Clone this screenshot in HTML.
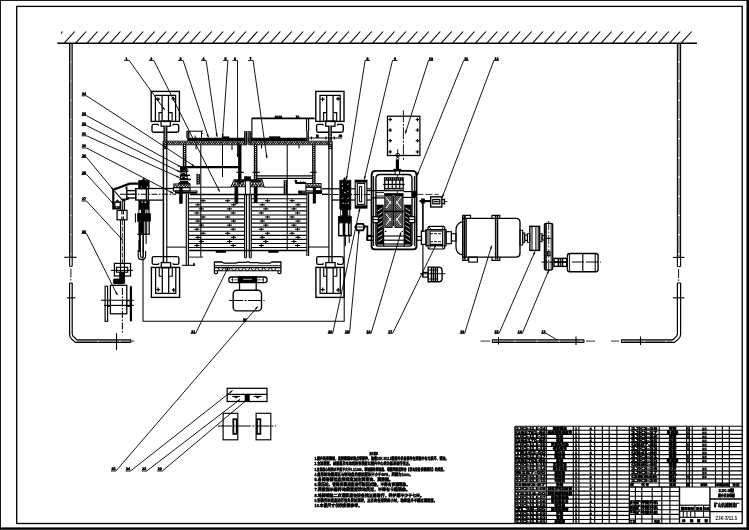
<!DOCTYPE html>
<html lang="zh"><head><meta charset="utf-8"><title>2JK-3/11.5 提升机安装图</title>
<style>
html,body{margin:0;padding:0;background:#fff;}
body{width:749px;height:530px;overflow:hidden;font-family:"Liberation Sans","Noto Sans CJK SC",sans-serif;}
svg{display:block;position:absolute;left:0;top:0;filter:grayscale(1);}
svg text{fill:#000;stroke:#000;stroke-width:0.45px;text-rendering:geometricPrecision;font-family:"Liberation Sans","Noto Sans CJK SC",sans-serif;}
svg .k{fill:#000;}
svg .t{stroke-width:0.6;}
svg .ld{stroke-width:0.75;}
</style></head><body>
<svg width="749" height="530" viewBox="0 0 749 530">
<g stroke="#000" stroke-width="1" fill="none" stroke-linecap="butt">
<!-- sheet frame -->
<rect x="0" y="0" width="749" height="0.9" style="fill:#000" stroke="none"/>
<rect x="0" y="0" width="0.9" height="530" style="fill:#000" stroke="none"/>
<rect x="746.5" y="0" width="2.5" height="530" style="fill:#000" stroke="none"/>
<rect x="0" y="527.4" width="749" height="2.4" style="fill:#000" stroke="none"/>
<rect x="16.7" y="6.4" width="725.5" height="517.1" stroke-width="1.32"/>
<!-- ceiling -->
<line x1="57.3" y1="43.3" x2="697" y2="43.3" stroke-width="1.38"/>
<line x1="64.2" y1="43.2" x2="74.7" y2="31.5" stroke-width="1.09"/>
<line x1="75.62" y1="43.2" x2="86.12" y2="31.5" stroke-width="1.09"/>
<line x1="87.05" y1="43.2" x2="97.55" y2="31.5" stroke-width="1.09"/>
<line x1="98.47" y1="43.2" x2="108.97" y2="31.5" stroke-width="1.09"/>
<line x1="109.9" y1="43.2" x2="120.4" y2="31.5" stroke-width="1.09"/>
<line x1="121.32" y1="43.2" x2="131.82" y2="31.5" stroke-width="1.09"/>
<line x1="132.74" y1="43.2" x2="143.24" y2="31.5" stroke-width="1.09"/>
<line x1="144.17" y1="43.2" x2="154.67" y2="31.5" stroke-width="1.09"/>
<line x1="155.59" y1="43.2" x2="166.09" y2="31.5" stroke-width="1.09"/>
<line x1="167.02" y1="43.2" x2="177.52" y2="31.5" stroke-width="1.09"/>
<line x1="178.44" y1="43.2" x2="188.94" y2="31.5" stroke-width="1.09"/>
<line x1="189.86" y1="43.2" x2="200.36" y2="31.5" stroke-width="1.09"/>
<line x1="201.29" y1="43.2" x2="211.79" y2="31.5" stroke-width="1.09"/>
<line x1="212.71" y1="43.2" x2="223.21" y2="31.5" stroke-width="1.09"/>
<line x1="224.14" y1="43.2" x2="234.64" y2="31.5" stroke-width="1.09"/>
<line x1="235.56" y1="43.2" x2="246.06" y2="31.5" stroke-width="1.09"/>
<line x1="246.98" y1="43.2" x2="257.48" y2="31.5" stroke-width="1.09"/>
<line x1="258.41" y1="43.2" x2="268.91" y2="31.5" stroke-width="1.09"/>
<line x1="269.83" y1="43.2" x2="280.33" y2="31.5" stroke-width="1.09"/>
<line x1="281.26" y1="43.2" x2="291.76" y2="31.5" stroke-width="1.09"/>
<line x1="292.68" y1="43.2" x2="303.18" y2="31.5" stroke-width="1.09"/>
<line x1="304.1" y1="43.2" x2="314.6" y2="31.5" stroke-width="1.09"/>
<line x1="315.53" y1="43.2" x2="326.03" y2="31.5" stroke-width="1.09"/>
<line x1="326.95" y1="43.2" x2="337.45" y2="31.5" stroke-width="1.09"/>
<line x1="338.38" y1="43.2" x2="348.88" y2="31.5" stroke-width="1.09"/>
<line x1="349.8" y1="43.2" x2="360.3" y2="31.5" stroke-width="1.09"/>
<line x1="361.22" y1="43.2" x2="371.72" y2="31.5" stroke-width="1.09"/>
<line x1="372.65" y1="43.2" x2="383.15" y2="31.5" stroke-width="1.09"/>
<line x1="384.07" y1="43.2" x2="394.57" y2="31.5" stroke-width="1.09"/>
<line x1="395.5" y1="43.2" x2="406" y2="31.5" stroke-width="1.09"/>
<line x1="406.92" y1="43.2" x2="417.42" y2="31.5" stroke-width="1.09"/>
<line x1="418.34" y1="43.2" x2="428.84" y2="31.5" stroke-width="1.09"/>
<line x1="429.77" y1="43.2" x2="440.27" y2="31.5" stroke-width="1.09"/>
<line x1="441.19" y1="43.2" x2="451.69" y2="31.5" stroke-width="1.09"/>
<line x1="452.62" y1="43.2" x2="463.12" y2="31.5" stroke-width="1.09"/>
<line x1="464.04" y1="43.2" x2="474.54" y2="31.5" stroke-width="1.09"/>
<line x1="475.46" y1="43.2" x2="485.96" y2="31.5" stroke-width="1.09"/>
<line x1="486.89" y1="43.2" x2="497.39" y2="31.5" stroke-width="1.09"/>
<line x1="498.31" y1="43.2" x2="508.81" y2="31.5" stroke-width="1.09"/>
<line x1="509.74" y1="43.2" x2="520.24" y2="31.5" stroke-width="1.09"/>
<line x1="521.16" y1="43.2" x2="531.66" y2="31.5" stroke-width="1.09"/>
<line x1="532.58" y1="43.2" x2="543.08" y2="31.5" stroke-width="1.09"/>
<line x1="544.01" y1="43.2" x2="554.51" y2="31.5" stroke-width="1.09"/>
<line x1="555.43" y1="43.2" x2="565.93" y2="31.5" stroke-width="1.09"/>
<line x1="566.86" y1="43.2" x2="577.36" y2="31.5" stroke-width="1.09"/>
<line x1="578.28" y1="43.2" x2="588.78" y2="31.5" stroke-width="1.09"/>
<line x1="589.7" y1="43.2" x2="600.2" y2="31.5" stroke-width="1.09"/>
<line x1="601.13" y1="43.2" x2="611.63" y2="31.5" stroke-width="1.09"/>
<line x1="612.55" y1="43.2" x2="623.05" y2="31.5" stroke-width="1.09"/>
<line x1="623.98" y1="43.2" x2="634.48" y2="31.5" stroke-width="1.09"/>
<line x1="635.4" y1="43.2" x2="645.9" y2="31.5" stroke-width="1.09"/>
<line x1="646.82" y1="43.2" x2="657.32" y2="31.5" stroke-width="1.09"/>
<line x1="658.25" y1="43.2" x2="668.75" y2="31.5" stroke-width="1.09"/>
<line x1="669.67" y1="43.2" x2="680.17" y2="31.5" stroke-width="1.09"/>
<line x1="681.1" y1="43.2" x2="691.6" y2="31.5" stroke-width="1.09"/>
<line x1="61" y1="33.5" x2="62.5" y2="31.5" stroke-width="1.03"/>
<!-- conduit -->
<line x1="69.6" y1="43.3" x2="69.6" y2="266.3" stroke-width="1.09"/>
<line x1="72.2" y1="43.3" x2="72.2" y2="266.3" stroke-width="1.09"/>
<line x1="70.9" y1="43.3" x2="70.9" y2="257" stroke-width="0.63" stroke-dasharray="18 1.2"/>
<line x1="69.6" y1="266.3" x2="72.2" y2="266.3" stroke-width="1.03"/>
<line x1="70.9" y1="268.5" x2="70.9" y2="282" stroke-width="0.92" stroke-dasharray="9 1.5 1.5 1.5"/>
<path d="M69.6 283 L69.6 334.5 Q69.6 337.4 71.8 339.2 L75.6 342.4 L130.7 342.4" stroke-width="1.21"/>
<path d="M72.2 283 L72.2 333.4 Q72.2 335.6 73.8 336.9 L76.8 339.8 L130.7 339.8" stroke-width="1.21"/>
<line x1="69.6" y1="283" x2="72.2" y2="283" stroke-width="1.03"/>
<line x1="130.7" y1="339.4" x2="130.7" y2="342.8" stroke-width="1.03"/>
<line x1="64.2" y1="257.3" x2="76.6" y2="257.3" stroke-width="1.09"/>
<line x1="67" y1="297.8" x2="75.5" y2="297.8" stroke-width="1.09"/>
<line x1="116.5" y1="333.3" x2="116.5" y2="350.1" stroke-width="1.09"/>
<line x1="131" y1="341.1" x2="134.3" y2="341.1" stroke-width="0.8"/>
<line x1="77" y1="341.1" x2="130" y2="341.1" stroke-width="0.57" stroke-dasharray="20 2"/>
<line x1="677.4" y1="43.3" x2="677.4" y2="266.6" stroke-width="1.09"/>
<line x1="680.6" y1="43.3" x2="680.6" y2="266.6" stroke-width="1.09"/>
<line x1="679" y1="43.3" x2="679" y2="257" stroke-width="0.8" stroke-dasharray="18 1.2"/>
<line x1="677.4" y1="266.6" x2="680.6" y2="266.6" stroke-width="1.03"/>
<line x1="678.6" y1="268.9" x2="678.6" y2="282.5" stroke-width="0.92" stroke-dasharray="9 1.5 1.5 1.5"/>
<path d="M680.6 283 L680.6 334.5 Q680.6 337.4 678.2 339.2 L674.2 342.4 L621.5 342.4" stroke-width="1.21"/>
<path d="M677.4 283 L677.4 333.4 Q677.4 335.6 675.9 336.9 L672.9 339.8 L621.5 339.8" stroke-width="1.21"/>
<line x1="677.4" y1="283" x2="680.6" y2="283" stroke-width="1.03"/>
<line x1="621.5" y1="339.4" x2="621.5" y2="342.8" stroke-width="1.03"/>
<line x1="672.8" y1="257.4" x2="684.5" y2="257.4" stroke-width="1.09"/>
<line x1="672.8" y1="297.8" x2="684.5" y2="297.8" stroke-width="1.09"/>
<line x1="640.5" y1="336.5" x2="640.5" y2="345" stroke-width="1.09"/>
<line x1="611" y1="341.1" x2="619" y2="341.1" stroke-width="0.8"/>
<line x1="623" y1="341.1" x2="672" y2="341.1" stroke-width="0.57" stroke-dasharray="20 2"/>
<line x1="492.3" y1="339.8" x2="584" y2="339.8" stroke-width="1.21"/>
<line x1="492.3" y1="342.4" x2="584" y2="342.4" stroke-width="1.21"/>
<line x1="492.3" y1="339.4" x2="492.3" y2="342.8" stroke-width="1.03"/>
<line x1="584" y1="339.4" x2="584" y2="342.8" stroke-width="1.03"/>
<line x1="480.5" y1="341.1" x2="490" y2="341.1" stroke-width="0.8"/>
<line x1="586" y1="341.1" x2="595" y2="341.1" stroke-width="0.8"/>
<line x1="494" y1="341.1" x2="583" y2="341.1" stroke-width="0.57" stroke-dasharray="20 2"/>
<line x1="576" y1="336.5" x2="576" y2="345" stroke-width="1.09"/>
<line x1="498.5" y1="337" x2="498.5" y2="344.5" stroke-width="1.03"/>
<!-- foundation blocks -->
<rect x="151.2" y="91.4" width="28.2" height="30" stroke-width="1.38"/>
<path d="M155.4 121.4 L155.4 95.4 L175.6 95.4 L175.6 121.4" stroke-width="1.26"/>
<path d="M159 121.4 L159 112.6 L162.1 112.6" stroke-width="1.15"/>
<path d="M172.1 121.4 L172.1 112.6 L169 112.6" stroke-width="1.15"/>
<line x1="162.1" y1="95.4" x2="162.1" y2="121.4" stroke-width="1.26"/>
<line x1="168.5" y1="95.4" x2="168.5" y2="121.4" stroke-width="1.26"/>
<line x1="156" y1="99.2" x2="160" y2="99.2" stroke-width="1.21"/>
<line x1="158" y1="97.2" x2="158" y2="101.2" stroke-width="1.21"/>
<line x1="171.5" y1="98.8" x2="175.5" y2="98.8" stroke-width="1.21"/>
<line x1="173.5" y1="96.8" x2="173.5" y2="100.8" stroke-width="1.21"/>
<path d="M158.5 124.4 L153.6 124.4 Q152 124.4 152 126 L152 130.6 Q152 132.2 153.6 132.2 L177.1 132.2" stroke-width="1.38"/>
<path d="M172.9 124.4 L177.1 124.4 Q178.7 124.4 178.7 126 L178.7 130.6 Q178.7 132.2 177.1 132.2" stroke-width="1.38"/>
<line x1="158.5" y1="124.4" x2="158.5" y2="125.7" stroke-width="1.15"/>
<line x1="172.9" y1="124.4" x2="172.9" y2="125.7" stroke-width="1.15"/>
<rect x="161.1" y="121" width="9.3" height="5.2" stroke-width="1.26"/>
<rect x="315.8" y="91.4" width="28.2" height="30" stroke-width="1.38"/>
<path d="M320 121.4 L320 95.4 L340.2 95.4 L340.2 121.4" stroke-width="1.26"/>
<path d="M323.6 121.4 L323.6 112.6 L326.7 112.6" stroke-width="1.15"/>
<path d="M336.7 121.4 L336.7 112.6 L333.6 112.6" stroke-width="1.15"/>
<line x1="326.7" y1="95.4" x2="326.7" y2="121.4" stroke-width="1.26"/>
<line x1="333.1" y1="95.4" x2="333.1" y2="121.4" stroke-width="1.26"/>
<line x1="320.6" y1="99.2" x2="324.6" y2="99.2" stroke-width="1.21"/>
<line x1="322.6" y1="97.2" x2="322.6" y2="101.2" stroke-width="1.21"/>
<line x1="336.1" y1="98.8" x2="340.1" y2="98.8" stroke-width="1.21"/>
<line x1="338.1" y1="96.8" x2="338.1" y2="100.8" stroke-width="1.21"/>
<path d="M323.1 124.4 L318.2 124.4 Q316.6 124.4 316.6 126 L316.6 130.6 Q316.6 132.2 318.2 132.2 L341.7 132.2" stroke-width="1.38"/>
<path d="M337.5 124.4 L341.7 124.4 Q343.3 124.4 343.3 126 L343.3 130.6 Q343.3 132.2 341.7 132.2" stroke-width="1.38"/>
<line x1="323.1" y1="124.4" x2="323.1" y2="125.7" stroke-width="1.15"/>
<line x1="337.5" y1="124.4" x2="337.5" y2="125.7" stroke-width="1.15"/>
<rect x="325.7" y="121" width="9.3" height="5.2" stroke-width="1.26"/>
<rect x="151.4" y="267.4" width="28.2" height="30" stroke-width="1.38"/>
<path d="M155.6 267.4 L155.6 293.4 L175.8 293.4 L175.8 267.4" stroke-width="1.26"/>
<path d="M159.2 267.4 L159.2 276.2 L162.3 276.2" stroke-width="1.15"/>
<path d="M172.3 267.4 L172.3 276.2 L169.2 276.2" stroke-width="1.15"/>
<line x1="162.3" y1="293.4" x2="162.3" y2="267.4" stroke-width="1.26"/>
<line x1="168.7" y1="293.4" x2="168.7" y2="267.4" stroke-width="1.26"/>
<line x1="156.2" y1="289.6" x2="160.2" y2="289.6" stroke-width="1.21"/>
<line x1="158.2" y1="287.6" x2="158.2" y2="291.6" stroke-width="1.21"/>
<line x1="171.7" y1="290" x2="175.7" y2="290" stroke-width="1.21"/>
<line x1="173.7" y1="288" x2="173.7" y2="292" stroke-width="1.21"/>
<path d="M158.7 264.4 L153.8 264.4 Q152.2 264.4 152.2 262.8 L152.2 258.2 Q152.2 256.6 153.8 256.6 L177.3 256.6" stroke-width="1.38"/>
<path d="M173.1 264.4 L177.3 264.4 Q178.9 264.4 178.9 262.8 L178.9 258.2 Q178.9 256.6 177.3 256.6" stroke-width="1.38"/>
<line x1="158.7" y1="264.4" x2="158.7" y2="263.1" stroke-width="1.15"/>
<line x1="173.1" y1="264.4" x2="173.1" y2="263.1" stroke-width="1.15"/>
<rect x="161.3" y="262.6" width="9.3" height="5.2" stroke-width="1.26"/>
<rect x="315.9" y="267.4" width="28.2" height="30" stroke-width="1.38"/>
<path d="M320.1 267.4 L320.1 293.4 L340.3 293.4 L340.3 267.4" stroke-width="1.26"/>
<path d="M323.7 267.4 L323.7 276.2 L326.8 276.2" stroke-width="1.15"/>
<path d="M336.8 267.4 L336.8 276.2 L333.7 276.2" stroke-width="1.15"/>
<line x1="326.8" y1="293.4" x2="326.8" y2="267.4" stroke-width="1.26"/>
<line x1="333.2" y1="293.4" x2="333.2" y2="267.4" stroke-width="1.26"/>
<line x1="320.7" y1="289.6" x2="324.7" y2="289.6" stroke-width="1.21"/>
<line x1="322.7" y1="287.6" x2="322.7" y2="291.6" stroke-width="1.21"/>
<line x1="336.2" y1="290" x2="340.2" y2="290" stroke-width="1.21"/>
<line x1="338.2" y1="288" x2="338.2" y2="292" stroke-width="1.21"/>
<path d="M323.2 264.4 L318.3 264.4 Q316.7 264.4 316.7 262.8 L316.7 258.2 Q316.7 256.6 318.3 256.6 L341.8 256.6" stroke-width="1.38"/>
<path d="M337.6 264.4 L341.8 264.4 Q343.4 264.4 343.4 262.8 L343.4 258.2 Q343.4 256.6 341.8 256.6" stroke-width="1.38"/>
<line x1="323.2" y1="264.4" x2="323.2" y2="263.1" stroke-width="1.15"/>
<line x1="337.6" y1="264.4" x2="337.6" y2="263.1" stroke-width="1.15"/>
<rect x="325.8" y="262.6" width="9.3" height="5.2" stroke-width="1.26"/>
<path d="M143 216 L143 321.3 L344.2 321.3 L344.2 216" stroke-width="1.03"/>
<!-- support frame -->
<rect x="163.55" y="126.2" width="3.7" height="14.8" stroke-width="0.2" style="fill:#000"/>
<line x1="165.4" y1="126.6" x2="165.4" y2="141" stroke="#fff" stroke-width="1.5" stroke-dasharray="1 0.95"/>
<line x1="163.4" y1="141" x2="163.4" y2="262" stroke-width="1.49"/>
<line x1="166.8" y1="141" x2="166.8" y2="262" stroke-width="1.15"/>
<rect x="163.55" y="144.6" width="3.5" height="4.4" stroke-width="0.2" style="fill:#000"/>
<line x1="165.3" y1="145" x2="165.3" y2="149" stroke="#fff" stroke-width="1.3" stroke-dasharray="1 0.95"/>
<rect x="328.15" y="126.2" width="3.7" height="14.8" stroke-width="0.2" style="fill:#000"/>
<line x1="330" y1="126.6" x2="330" y2="141" stroke="#fff" stroke-width="1.5" stroke-dasharray="1 0.95"/>
<line x1="328.9" y1="141" x2="328.9" y2="262" stroke-width="1.15"/>
<line x1="332" y1="141" x2="332" y2="262" stroke-width="1.38"/>
<rect x="328.35" y="144.6" width="3.5" height="4.4" stroke-width="0.2" style="fill:#000"/>
<line x1="330.1" y1="145" x2="330.1" y2="149" stroke="#fff" stroke-width="1.3" stroke-dasharray="1 0.95"/>
<line x1="163.2" y1="141.2" x2="187.6" y2="141.2" stroke-width="0.92"/>
<rect x="187.6" y="138" width="59.4" height="3.2" stroke-width="0.5" style="fill:#000"/>
<path d="M163.4 141.7 L164.6 144.1 L165.8 141.7 L167 144.1 L168.2 141.7 L169.4 144.1 L170.6 141.7 L171.8 144.1 L173 141.7 L174.2 144.1 L175.4 141.7 L176.6 144.1 L177.8 141.7 L179 144.1 L180.2 141.7 L181.4 144.1 L182.6 141.7 L183.8 144.1 L185 141.7 L186.2 144.1 L187.4 141.7 L188.6 144.1 L189.8 141.7 L191 144.1 L192.2 141.7 L193.4 144.1 L194.6 141.7 L195.8 144.1 L197 141.7 L198.2 144.1 L199.4 141.7 L200.6 144.1 L201.8 141.7 L203 144.1 L204.2 141.7 L205.4 144.1 L206.6 141.7 L207.8 144.1 L209 141.7 L210.2 144.1 L211.4 141.7 L212.6 144.1 L213.8 141.7 L215 144.1 L216.2 141.7 L217.4 144.1 L218.6 141.7 L219.8 144.1 L221 141.7 L222.2 144.1 L223.4 141.7 L224.6 144.1 L225.8 141.7 L227 144.1 L228.2 141.7 L229.4 144.1 L230.6 141.7 L231.8 144.1 L233 141.7 L234.2 144.1 L235.4 141.7 L236.6 144.1 L237.8 141.7 L239 144.1 L240.2 141.7 L241.4 144.1 L242.6 141.7 L243.8 144.1 L245 141.7 L246.2 144.1" stroke-width="0.98"/>
<line x1="163.2" y1="144.7" x2="247" y2="144.7" stroke-width="1.15"/>
<line x1="247" y1="131.2" x2="247" y2="144.7" stroke-width="0.69"/>
<rect x="248.6" y="138" width="60" height="3.2" stroke-width="0.5" style="fill:#000"/>
<path d="M249 141.7 L250.2 144.1 L251.4 141.7 L252.6 144.1 L253.8 141.7 L255 144.1 L256.2 141.7 L257.4 144.1 L258.6 141.7 L259.8 144.1 L261 141.7 L262.2 144.1 L263.4 141.7 L264.6 144.1 L265.8 141.7 L267 144.1 L268.2 141.7 L269.4 144.1 L270.6 141.7 L271.8 144.1 L273 141.7 L274.2 144.1 L275.4 141.7 L276.6 144.1 L277.8 141.7 L279 144.1 L280.2 141.7 L281.4 144.1 L282.6 141.7 L283.8 144.1 L285 141.7 L286.2 144.1 L287.4 141.7 L288.6 144.1 L289.8 141.7 L291 144.1 L292.2 141.7 L293.4 144.1 L294.6 141.7 L295.8 144.1 L297 141.7 L298.2 144.1 L299.4 141.7 L300.6 144.1 L301.8 141.7 L303 144.1 L304.2 141.7 L305.4 144.1 L306.6 141.7 L307.8 144.1 L309 141.7 L310.2 144.1 L311.4 141.7 L312.6 144.1 L313.8 141.7 L315 144.1 L316.2 141.7 L317.4 144.1 L318.6 141.7 L319.8 144.1 L321 141.7 L322.2 144.1 L323.4 141.7 L324.6 144.1 L325.8 141.7 L327 144.1 L328.2 141.7 L329.4 144.1 L330.6 141.7" stroke-width="0.98"/>
<line x1="248.6" y1="144.7" x2="331.6" y2="144.7" stroke-width="1.15"/>
<line x1="308.8" y1="141.2" x2="331.6" y2="141.2" stroke-width="0.92"/>
<rect x="244.15" y="131.2" width="2.9" height="13.4" stroke-width="0.2" style="fill:#000"/>
<line x1="245.6" y1="131.6" x2="245.6" y2="144.6" stroke="#fff" stroke-width="0.7" stroke-dasharray="1 0.95"/>
<rect x="248.35" y="131.2" width="3" height="13.4" stroke-width="0.2" style="fill:#000"/>
<line x1="249.85" y1="131.6" x2="249.85" y2="144.6" stroke="#fff" stroke-width="0.8" stroke-dasharray="1 0.95"/>
<rect x="186.45" y="131.2" width="2.9" height="6.8" stroke-width="0.2" style="fill:#000"/>
<line x1="187.9" y1="131.6" x2="187.9" y2="138" stroke="#fff" stroke-width="0.7" stroke-dasharray="1 0.95"/>
<line x1="186.9" y1="131.2" x2="202.9" y2="131.2" stroke-width="1.03"/>
<line x1="201.5" y1="131.2" x2="201.5" y2="137.6" stroke-width="1.03"/>
<line x1="201.5" y1="133.6" x2="203.3" y2="133.6" stroke-width="0.92"/>
<line x1="195.2" y1="135.5" x2="195.2" y2="138" stroke-width="0.92"/>
<line x1="251.7" y1="118.4" x2="314.7" y2="118.4" stroke-width="1.61"/>
<line x1="251.9" y1="118.4" x2="251.9" y2="138" stroke-width="1.15"/>
<line x1="306.5" y1="118.4" x2="306.5" y2="131" stroke-width="1.15"/>
<line x1="308.6" y1="118.4" x2="308.6" y2="131" stroke-width="1.15"/>
<rect x="306.45" y="131" width="2.4" height="10" stroke-width="0.2" style="fill:#000"/>
<line x1="307.65" y1="131.4" x2="307.65" y2="141" stroke="#fff" stroke-width="0.7" stroke-dasharray="1 0.95"/>
<rect x="269.5" y="136.6" width="10.5" height="1.6" stroke-width="0.4" style="fill:#000"/>
<rect x="222" y="136.7" width="7" height="1.4" stroke-width="0.4" style="fill:#000"/>
<line x1="308.8" y1="137.9" x2="342.3" y2="137.9" stroke-width="1.03"/>
<line x1="311.4" y1="136.4" x2="311.4" y2="139.6" stroke-width="1.03"/>
<line x1="325.9" y1="136.4" x2="325.9" y2="139.6" stroke-width="1.03"/>
<line x1="334.3" y1="136.4" x2="334.3" y2="139.6" stroke-width="1.03"/>
<rect x="316.2" y="134.8" width="2.4" height="3" stroke-width="0.4" style="fill:#000"/>
<rect x="182.95" y="144.7" width="3.3" height="22.3" stroke-width="0.2" style="fill:#000"/>
<line x1="184.6" y1="145.1" x2="184.6" y2="167" stroke="#fff" stroke-width="1.1" stroke-dasharray="1 0.95"/>
<rect x="253.95" y="144.7" width="3.3" height="35.3" stroke-width="0.2" style="fill:#000"/>
<line x1="255.6" y1="145.1" x2="255.6" y2="180" stroke="#fff" stroke-width="1.1" stroke-dasharray="1 0.95"/>
<rect x="312.15" y="144.7" width="3.3" height="38.9" stroke-width="0.2" style="fill:#000"/>
<line x1="313.8" y1="145.1" x2="313.8" y2="183.6" stroke="#fff" stroke-width="1.1" stroke-dasharray="1 0.95"/>
<line x1="185.8" y1="167.2" x2="240" y2="167.2" stroke-width="2.3"/>
<line x1="256.8" y1="175.9" x2="312.6" y2="175.9" stroke-width="1.32"/>
<line x1="256.8" y1="178.3" x2="312.6" y2="178.3" stroke-width="1.32"/>
<line x1="200.8" y1="144.7" x2="200.8" y2="257.1" stroke-width="1.03"/>
<line x1="222.5" y1="144.7" x2="222.5" y2="177" stroke-width="1.03"/>
<line x1="239.6" y1="144.7" x2="239.6" y2="184" stroke-width="2.53"/>
<line x1="287.2" y1="144.7" x2="287.2" y2="250.6" stroke-width="1.03"/>
<!-- drum -->
<line x1="190" y1="194.5" x2="306.9" y2="194.5" stroke-width="1.72"/>
<line x1="188.9" y1="250.5" x2="306.9" y2="250.5" stroke-width="1.38"/>
<line x1="188.9" y1="198.7" x2="244.6" y2="198.7" stroke-width="1.15"/>
<line x1="251.4" y1="198.7" x2="306.6" y2="198.7" stroke-width="1.15"/>
<line x1="188.9" y1="202.77" x2="244.6" y2="202.77" stroke-width="1.15"/>
<line x1="251.4" y1="202.77" x2="306.6" y2="202.77" stroke-width="1.15"/>
<line x1="188.9" y1="206.84" x2="244.6" y2="206.84" stroke-width="1.15"/>
<line x1="251.4" y1="206.84" x2="306.6" y2="206.84" stroke-width="1.15"/>
<line x1="188.9" y1="210.91" x2="244.6" y2="210.91" stroke-width="1.15"/>
<line x1="251.4" y1="210.91" x2="306.6" y2="210.91" stroke-width="1.15"/>
<line x1="188.9" y1="214.98" x2="244.6" y2="214.98" stroke-width="1.15"/>
<line x1="251.4" y1="214.98" x2="306.6" y2="214.98" stroke-width="1.15"/>
<line x1="188.9" y1="219.05" x2="244.6" y2="219.05" stroke-width="1.15"/>
<line x1="251.4" y1="219.05" x2="306.6" y2="219.05" stroke-width="1.15"/>
<line x1="188.9" y1="223.12" x2="244.6" y2="223.12" stroke-width="1.15"/>
<line x1="251.4" y1="223.12" x2="306.6" y2="223.12" stroke-width="1.15"/>
<line x1="188.9" y1="227.19" x2="244.6" y2="227.19" stroke-width="1.15"/>
<line x1="251.4" y1="227.19" x2="306.6" y2="227.19" stroke-width="1.15"/>
<line x1="188.9" y1="231.26" x2="244.6" y2="231.26" stroke-width="1.15"/>
<line x1="251.4" y1="231.26" x2="306.6" y2="231.26" stroke-width="1.15"/>
<line x1="188.9" y1="235.33" x2="244.6" y2="235.33" stroke-width="1.15"/>
<line x1="251.4" y1="235.33" x2="306.6" y2="235.33" stroke-width="1.15"/>
<line x1="188.9" y1="239.4" x2="244.6" y2="239.4" stroke-width="1.15"/>
<line x1="251.4" y1="239.4" x2="306.6" y2="239.4" stroke-width="1.15"/>
<line x1="188.9" y1="243.47" x2="244.6" y2="243.47" stroke-width="1.15"/>
<line x1="251.4" y1="243.47" x2="306.6" y2="243.47" stroke-width="1.15"/>
<line x1="188.9" y1="247.54" x2="244.6" y2="247.54" stroke-width="1.15"/>
<line x1="251.4" y1="247.54" x2="306.6" y2="247.54" stroke-width="1.15"/>
<line x1="200.5" y1="200.73" x2="205.7" y2="200.73" stroke-width="1.03"/>
<line x1="203.1" y1="199.23" x2="203.1" y2="202.23" stroke-width="1.03"/>
<line x1="225.1" y1="200.73" x2="230.3" y2="200.73" stroke-width="1.03"/>
<line x1="227.7" y1="199.23" x2="227.7" y2="202.23" stroke-width="1.03"/>
<line x1="264.9" y1="200.73" x2="270.1" y2="200.73" stroke-width="1.03"/>
<line x1="267.5" y1="199.23" x2="267.5" y2="202.23" stroke-width="1.03"/>
<line x1="289.5" y1="200.73" x2="294.7" y2="200.73" stroke-width="1.03"/>
<line x1="292.1" y1="199.23" x2="292.1" y2="202.23" stroke-width="1.03"/>
<line x1="195.3" y1="204.8" x2="200.5" y2="204.8" stroke-width="1.03"/>
<line x1="197.9" y1="203.3" x2="197.9" y2="206.3" stroke-width="1.03"/>
<line x1="231" y1="204.8" x2="236.2" y2="204.8" stroke-width="1.03"/>
<line x1="233.6" y1="203.3" x2="233.6" y2="206.3" stroke-width="1.03"/>
<line x1="259.7" y1="204.8" x2="264.9" y2="204.8" stroke-width="1.03"/>
<line x1="262.3" y1="203.3" x2="262.3" y2="206.3" stroke-width="1.03"/>
<line x1="295.4" y1="204.8" x2="300.6" y2="204.8" stroke-width="1.03"/>
<line x1="298" y1="203.3" x2="298" y2="206.3" stroke-width="1.03"/>
<line x1="198.8" y1="208.87" x2="204" y2="208.87" stroke-width="1.03"/>
<line x1="201.4" y1="207.37" x2="201.4" y2="210.37" stroke-width="1.03"/>
<line x1="226.9" y1="208.87" x2="232.1" y2="208.87" stroke-width="1.03"/>
<line x1="229.5" y1="207.37" x2="229.5" y2="210.37" stroke-width="1.03"/>
<line x1="263.2" y1="208.87" x2="268.4" y2="208.87" stroke-width="1.03"/>
<line x1="265.8" y1="207.37" x2="265.8" y2="210.37" stroke-width="1.03"/>
<line x1="291.3" y1="208.87" x2="296.5" y2="208.87" stroke-width="1.03"/>
<line x1="293.9" y1="207.37" x2="293.9" y2="210.37" stroke-width="1.03"/>
<line x1="194.3" y1="212.94" x2="199.5" y2="212.94" stroke-width="1.03"/>
<line x1="196.9" y1="211.44" x2="196.9" y2="214.44" stroke-width="1.03"/>
<line x1="230.6" y1="212.94" x2="235.8" y2="212.94" stroke-width="1.03"/>
<line x1="233.2" y1="211.44" x2="233.2" y2="214.44" stroke-width="1.03"/>
<line x1="258.7" y1="212.94" x2="263.9" y2="212.94" stroke-width="1.03"/>
<line x1="261.3" y1="211.44" x2="261.3" y2="214.44" stroke-width="1.03"/>
<line x1="295" y1="212.94" x2="300.2" y2="212.94" stroke-width="1.03"/>
<line x1="297.6" y1="211.44" x2="297.6" y2="214.44" stroke-width="1.03"/>
<line x1="200.5" y1="217.01" x2="205.7" y2="217.01" stroke-width="1.03"/>
<line x1="203.1" y1="215.51" x2="203.1" y2="218.51" stroke-width="1.03"/>
<line x1="225.1" y1="217.01" x2="230.3" y2="217.01" stroke-width="1.03"/>
<line x1="227.7" y1="215.51" x2="227.7" y2="218.51" stroke-width="1.03"/>
<line x1="264.9" y1="217.01" x2="270.1" y2="217.01" stroke-width="1.03"/>
<line x1="267.5" y1="215.51" x2="267.5" y2="218.51" stroke-width="1.03"/>
<line x1="289.5" y1="217.01" x2="294.7" y2="217.01" stroke-width="1.03"/>
<line x1="292.1" y1="215.51" x2="292.1" y2="218.51" stroke-width="1.03"/>
<line x1="195.3" y1="221.08" x2="200.5" y2="221.08" stroke-width="1.03"/>
<line x1="197.9" y1="219.58" x2="197.9" y2="222.58" stroke-width="1.03"/>
<line x1="231" y1="221.08" x2="236.2" y2="221.08" stroke-width="1.03"/>
<line x1="233.6" y1="219.58" x2="233.6" y2="222.58" stroke-width="1.03"/>
<line x1="259.7" y1="221.08" x2="264.9" y2="221.08" stroke-width="1.03"/>
<line x1="262.3" y1="219.58" x2="262.3" y2="222.58" stroke-width="1.03"/>
<line x1="295.4" y1="221.08" x2="300.6" y2="221.08" stroke-width="1.03"/>
<line x1="298" y1="219.58" x2="298" y2="222.58" stroke-width="1.03"/>
<line x1="198.8" y1="225.15" x2="204" y2="225.15" stroke-width="1.03"/>
<line x1="201.4" y1="223.65" x2="201.4" y2="226.65" stroke-width="1.03"/>
<line x1="226.9" y1="225.15" x2="232.1" y2="225.15" stroke-width="1.03"/>
<line x1="229.5" y1="223.65" x2="229.5" y2="226.65" stroke-width="1.03"/>
<line x1="263.2" y1="225.15" x2="268.4" y2="225.15" stroke-width="1.03"/>
<line x1="265.8" y1="223.65" x2="265.8" y2="226.65" stroke-width="1.03"/>
<line x1="291.3" y1="225.15" x2="296.5" y2="225.15" stroke-width="1.03"/>
<line x1="293.9" y1="223.65" x2="293.9" y2="226.65" stroke-width="1.03"/>
<line x1="194.3" y1="229.22" x2="199.5" y2="229.22" stroke-width="1.03"/>
<line x1="196.9" y1="227.72" x2="196.9" y2="230.72" stroke-width="1.03"/>
<line x1="230.6" y1="229.22" x2="235.8" y2="229.22" stroke-width="1.03"/>
<line x1="233.2" y1="227.72" x2="233.2" y2="230.72" stroke-width="1.03"/>
<line x1="258.7" y1="229.22" x2="263.9" y2="229.22" stroke-width="1.03"/>
<line x1="261.3" y1="227.72" x2="261.3" y2="230.72" stroke-width="1.03"/>
<line x1="295" y1="229.22" x2="300.2" y2="229.22" stroke-width="1.03"/>
<line x1="297.6" y1="227.72" x2="297.6" y2="230.72" stroke-width="1.03"/>
<line x1="200.5" y1="233.29" x2="205.7" y2="233.29" stroke-width="1.03"/>
<line x1="203.1" y1="231.79" x2="203.1" y2="234.79" stroke-width="1.03"/>
<line x1="225.1" y1="233.29" x2="230.3" y2="233.29" stroke-width="1.03"/>
<line x1="227.7" y1="231.79" x2="227.7" y2="234.79" stroke-width="1.03"/>
<line x1="264.9" y1="233.29" x2="270.1" y2="233.29" stroke-width="1.03"/>
<line x1="267.5" y1="231.79" x2="267.5" y2="234.79" stroke-width="1.03"/>
<line x1="289.5" y1="233.29" x2="294.7" y2="233.29" stroke-width="1.03"/>
<line x1="292.1" y1="231.79" x2="292.1" y2="234.79" stroke-width="1.03"/>
<line x1="195.3" y1="237.36" x2="200.5" y2="237.36" stroke-width="1.03"/>
<line x1="197.9" y1="235.86" x2="197.9" y2="238.86" stroke-width="1.03"/>
<line x1="231" y1="237.36" x2="236.2" y2="237.36" stroke-width="1.03"/>
<line x1="233.6" y1="235.86" x2="233.6" y2="238.86" stroke-width="1.03"/>
<line x1="259.7" y1="237.36" x2="264.9" y2="237.36" stroke-width="1.03"/>
<line x1="262.3" y1="235.86" x2="262.3" y2="238.86" stroke-width="1.03"/>
<line x1="295.4" y1="237.36" x2="300.6" y2="237.36" stroke-width="1.03"/>
<line x1="298" y1="235.86" x2="298" y2="238.86" stroke-width="1.03"/>
<line x1="198.8" y1="241.43" x2="204" y2="241.43" stroke-width="1.03"/>
<line x1="201.4" y1="239.93" x2="201.4" y2="242.93" stroke-width="1.03"/>
<line x1="226.9" y1="241.43" x2="232.1" y2="241.43" stroke-width="1.03"/>
<line x1="229.5" y1="239.93" x2="229.5" y2="242.93" stroke-width="1.03"/>
<line x1="263.2" y1="241.43" x2="268.4" y2="241.43" stroke-width="1.03"/>
<line x1="265.8" y1="239.93" x2="265.8" y2="242.93" stroke-width="1.03"/>
<line x1="291.3" y1="241.43" x2="296.5" y2="241.43" stroke-width="1.03"/>
<line x1="293.9" y1="239.93" x2="293.9" y2="242.93" stroke-width="1.03"/>
<line x1="194.3" y1="245.5" x2="199.5" y2="245.5" stroke-width="1.03"/>
<line x1="196.9" y1="244" x2="196.9" y2="247" stroke-width="1.03"/>
<line x1="230.6" y1="245.5" x2="235.8" y2="245.5" stroke-width="1.03"/>
<line x1="233.2" y1="244" x2="233.2" y2="247" stroke-width="1.03"/>
<line x1="258.7" y1="245.5" x2="263.9" y2="245.5" stroke-width="1.03"/>
<line x1="261.3" y1="244" x2="261.3" y2="247" stroke-width="1.03"/>
<line x1="295" y1="245.5" x2="300.2" y2="245.5" stroke-width="1.03"/>
<line x1="297.6" y1="244" x2="297.6" y2="247" stroke-width="1.03"/>
<line x1="186.3" y1="194" x2="186.3" y2="265.3" stroke-width="1.15"/>
<line x1="188.4" y1="194" x2="188.4" y2="265.3" stroke-width="1.15"/>
<line x1="306.9" y1="194" x2="306.9" y2="256" stroke-width="1.15"/>
<line x1="308.6" y1="194" x2="308.6" y2="256" stroke-width="1.15"/>
<line x1="182" y1="265.3" x2="195.2" y2="265.3" stroke-width="1.03"/>
<rect x="193.2" y="263.5" width="1.6" height="1.6" stroke-width="0.3" style="fill:#000"/>
<line x1="188.4" y1="257.1" x2="203" y2="257.1" stroke-width="0.92"/>
<line x1="244.6" y1="194" x2="244.6" y2="257.8" stroke-width="1.15"/>
<line x1="246.5" y1="194" x2="246.5" y2="257.8" stroke-width="1.15"/>
<line x1="249.3" y1="194" x2="249.3" y2="257.8" stroke-width="1.15"/>
<line x1="251.2" y1="194" x2="251.2" y2="257.8" stroke-width="1.15"/>
<line x1="244.6" y1="257.8" x2="246.5" y2="257.8" stroke-width="0.92"/>
<line x1="249.3" y1="257.8" x2="251.2" y2="257.8" stroke-width="0.92"/>
<rect x="215.9" y="250.6" width="10" height="2.1" stroke-width="0.3" style="fill:#000"/>
<rect x="268.5" y="250.6" width="10" height="2.1" stroke-width="0.3" style="fill:#000"/>
<line x1="166.9" y1="247.1" x2="186.3" y2="247.1" stroke-width="1.03"/>
<line x1="308.6" y1="247" x2="328.8" y2="247" stroke-width="1.03"/>
<!-- bearings / shaft -->
<rect x="173.9" y="184" width="16.1" height="3.6" stroke-width="1.03"/>
<path d="M174.3 187.1 L175.65 184.7 L177 187.1 L178.35 184.7 L179.7 187.1 L181.05 184.7 L182.4 187.1 L183.75 184.7 L185.1 187.1 L186.45 184.7 L187.8 187.1 L189.15 184.7" stroke-width="0.92"/>
<rect x="173.4" y="187.6" width="16.6" height="3.4" stroke-width="1.15"/>
<rect x="175.5" y="191" width="21.4" height="2.1" stroke-width="1.03"/>
<line x1="176" y1="192.6" x2="196.9" y2="192.6" stroke-width="1.38"/>
<rect x="179.3" y="191" width="3.2" height="12.6" stroke-width="0.4" style="fill:#000"/>
<rect x="179.6" y="187.6" width="2.6" height="3.4" stroke-width="0.4" style="fill:#000"/>
<rect x="180.6" y="166.6" width="6.4" height="3.6" stroke-width="1" style="fill:#000"/>
<line x1="179.8" y1="171.2" x2="188.4" y2="171.2" stroke-width="1.61"/>
<rect x="181" y="172" width="5.6" height="2.4" stroke-width="1.03"/>
<line x1="179.8" y1="175.3" x2="190" y2="175.3" stroke-width="1.38"/>
<rect x="180.6" y="176.2" width="6.6" height="2.4" stroke-width="1.03"/>
<line x1="179.3" y1="179.5" x2="191" y2="179.5" stroke-width="1.61"/>
<line x1="180" y1="181.6" x2="188" y2="181.6" stroke-width="1.15"/>
<path d="M180 182.2 L178 184 L190 184 L188 182.2 Z" stroke-width="0.9" style="fill:#000"/>
<line x1="183.6" y1="167" x2="183.6" y2="184" stroke-width="2.76" stroke-dasharray="1 1"/>
<rect x="196.55" y="174" width="3.3" height="10.4" stroke-width="0.2" style="fill:#000"/>
<line x1="198.2" y1="174.4" x2="198.2" y2="184.4" stroke="#fff" stroke-width="1.1" stroke-dasharray="1 0.95"/>
<line x1="191" y1="187.2" x2="231" y2="187.2" stroke-width="0.92"/>
<line x1="264" y1="187.2" x2="284" y2="187.2" stroke-width="0.92"/>
<line x1="239.9" y1="144.7" x2="239.9" y2="180" stroke-width="3.1"/>
<line x1="236.4" y1="172.3" x2="243.8" y2="172.3" stroke-width="1.15"/>
<line x1="252.4" y1="172.3" x2="259.9" y2="172.3" stroke-width="1.15"/>
<path d="M234.2 179.8 L231 186.7 L264.1 186.7 L262 179.8 Z" stroke-width="1.03"/>
<rect x="234.6" y="180.2" width="9.8" height="2.4" stroke-width="0.3" style="fill:#000"/>
<rect x="251" y="180.2" width="10.4" height="2.4" stroke-width="0.3" style="fill:#000"/>
<path d="M232.4 183.1 L233.75 186.4 L235.1 183.1 L236.45 186.4 L237.8 183.1 L239.15 186.4 L240.5 183.1 L241.85 186.4 L243.2 183.1 L244.55 186.4" stroke-width="0.98"/>
<path d="M250.4 183.1 L251.75 186.4 L253.1 183.1 L254.45 186.4 L255.8 183.1 L257.15 186.4 L258.5 183.1 L259.85 186.4 L261.2 183.1 L262.55 186.4" stroke-width="0.98"/>
<rect x="245.4" y="180.8" width="4.8" height="13.4" stroke-width="1" style="fill:#fff"/>
<rect x="244.4" y="176.6" width="6.4" height="4.2" stroke-width="0.4" style="fill:#000"/>
<line x1="246.3" y1="176.4" x2="246.3" y2="179" stroke-width="0.8"/>
<rect x="234.8" y="186.7" width="3.2" height="17" stroke-width="0.4" style="fill:#000"/>
<rect x="254" y="186.7" width="3.2" height="16" stroke-width="0.4" style="fill:#000"/>
<line x1="235.6" y1="187.5" x2="235.6" y2="194" stroke-width="1.03" stroke-dasharray="0.8 0.8"/>
<rect x="283.85" y="180.3" width="3.3" height="13.9" stroke-width="0.2" style="fill:#000"/>
<line x1="285.5" y1="180.7" x2="285.5" y2="194.2" stroke="#fff" stroke-width="1.1" stroke-dasharray="1 0.95"/>
<line x1="310.3" y1="172.3" x2="316.7" y2="172.3" stroke-width="1.15"/>
<line x1="295.3" y1="183" x2="306" y2="183" stroke-width="2.07"/>
<line x1="296.3" y1="180" x2="296.3" y2="183" stroke-width="1.61"/>
<line x1="300.5" y1="181.5" x2="300.5" y2="183" stroke-width="1.15"/>
<line x1="303.5" y1="181.5" x2="303.5" y2="183" stroke-width="1.15"/>
<rect x="306" y="183.6" width="15" height="3.6" stroke-width="1.03"/>
<path d="M306.4 186.7 L307.75 184.3 L309.1 186.7 L310.45 184.3 L311.8 186.7 L313.15 184.3 L314.5 186.7 L315.85 184.3 L317.2 186.7 L318.55 184.3 L319.9 186.7" stroke-width="0.92"/>
<rect x="306" y="187.2" width="15" height="3.8" stroke-width="1.15"/>
<line x1="298.5" y1="193" x2="322" y2="193" stroke-width="1.61"/>
<line x1="298.5" y1="191.2" x2="306" y2="191.2" stroke-width="1.15"/>
<rect x="316" y="190.6" width="6" height="3" stroke-width="0.3" style="fill:#000"/>
<rect x="313" y="187.2" width="2.8" height="16.1" stroke-width="0.4" style="fill:#000"/>
<rect x="298.3" y="191" width="3" height="2.4" stroke-width="0.3" style="fill:#000"/>
<line x1="148.3" y1="188.5" x2="173.4" y2="188.5" stroke-width="1.26"/>
<line x1="148.3" y1="200.1" x2="163.4" y2="200.1" stroke-width="1.26"/>
<line x1="120" y1="194.2" x2="176" y2="194.2" stroke-width="1.03" stroke-dasharray="6 1.5 1.5 1.5"/>
<line x1="322" y1="188.8" x2="339.7" y2="188.8" stroke-width="1.26"/>
<line x1="322" y1="194.2" x2="328.6" y2="194.2" stroke-width="1.15"/>
<line x1="331.8" y1="200" x2="339.7" y2="200" stroke-width="1.26"/>
<line x1="350.9" y1="188.8" x2="355.2" y2="188.8" stroke-width="1.15"/>
<line x1="350.9" y1="200" x2="355.2" y2="200" stroke-width="1.15"/>
<line x1="366.9" y1="188.8" x2="372" y2="188.8" stroke-width="1.15"/>
<line x1="366.9" y1="200" x2="372" y2="200" stroke-width="1.15"/>
<line x1="322" y1="194.4" x2="372" y2="194.4" stroke-width="1.03" stroke-dasharray="6 1.5 1.5 1.5"/>
<path d="M339.7 180.2 L343 180.2 L344.6 177.4 L346.2 180.2 L350.9 180.2 L350.9 209.1 L339.7 209.1 Z" stroke-width="0.6" style="fill:#000"/>
<rect x="341.8" y="183.4" width="1.2" height="1.4" stroke-width="0.2" style="fill:#fff"/>
<rect x="347.2" y="183.4" width="1.2" height="1.4" stroke-width="0.2" style="fill:#fff"/>
<rect x="341.8" y="187.4" width="1.2" height="1.4" stroke-width="0.2" style="fill:#fff"/>
<rect x="347.2" y="190.4" width="1.2" height="1.4" stroke-width="0.2" style="fill:#fff"/>
<rect x="344.4" y="191.9" width="1.2" height="1.4" stroke-width="0.2" style="fill:#fff"/>
<rect x="342" y="197.4" width="1.2" height="1.4" stroke-width="0.2" style="fill:#fff"/>
<rect x="347.4" y="197.4" width="1.2" height="1.4" stroke-width="0.2" style="fill:#fff"/>
<rect x="342.4" y="202.4" width="1.2" height="1.4" stroke-width="0.2" style="fill:#fff"/>
<rect x="345" y="202.4" width="1.2" height="1.4" stroke-width="0.2" style="fill:#fff"/>
<rect x="347.6" y="202.4" width="1.2" height="1.4" stroke-width="0.2" style="fill:#fff"/>
<rect x="355.2" y="180.3" width="11.7" height="27.7" stroke-width="1.15"/>
<rect x="355.2" y="180.3" width="11.7" height="2.2" stroke-width="0.3" style="fill:#000"/>
<rect x="355.2" y="205.4" width="11.7" height="2.6" stroke-width="0.3" style="fill:#000"/>
<rect x="357.3" y="183.4" width="7.5" height="21" stroke-width="1.03"/>
<rect x="359.4" y="186.7" width="2.2" height="15" stroke-width="1.03"/>
<!-- left drive unit -->
<rect x="135.7" y="188.7" width="10.7" height="11.3" stroke-width="1.38"/>
<line x1="148.3" y1="188.7" x2="148.3" y2="200.1" stroke-width="1.26"/>
<line x1="146.4" y1="188.7" x2="148.3" y2="188.7" stroke-width="1.15"/>
<line x1="146.4" y1="200.1" x2="148.3" y2="200.1" stroke-width="1.15"/>
<rect x="126.8" y="190.6" width="8.9" height="7.4" stroke-width="1.38"/>
<line x1="126.8" y1="194.2" x2="135.7" y2="194.2" stroke-width="1.03"/>
<path d="M138.5 188.7 L138.5 180.6 L142.2 180.2 L143.6 178 L145.2 180.2 L149.2 180.6 L149.2 188.7 Z" stroke-width="0.6" style="fill:#000"/>
<rect x="140.2" y="186.2" width="1.2" height="1.8" stroke-width="0.2" style="fill:#fff"/>
<rect x="146.6" y="186.2" width="1.2" height="1.8" stroke-width="0.2" style="fill:#fff"/>
<path d="M138.5 183.7 L129.6 183.7 L113.3 189.8 L113.3 208.3 L120.7 208.3" stroke-width="2.18"/>
<line x1="114.6" y1="191" x2="122.1" y2="199.9" stroke-width="1.15"/>
<line x1="126.8" y1="186.6" x2="126.8" y2="190.6" stroke-width="1.15"/>
<line x1="125.6" y1="188.6" x2="127" y2="187.6" stroke-width="1.84"/>
<rect x="114.8" y="202.2" width="5.4" height="4.7" stroke-width="1.26"/>
<path d="M115.5 201.8 L117.4 199.6 L119.3 201.8 Z" stroke-width="0.5" style="fill:#000"/>
<rect x="115.8" y="206.9" width="1" height="1" stroke-width="0.2" style="fill:#fff"/>
<line x1="122.1" y1="199.9" x2="125.5" y2="199.9" stroke-width="2.53"/>
<line x1="125.5" y1="199.5" x2="129" y2="198.4" stroke-width="1.84"/>
<line x1="120.8" y1="200.8" x2="120.8" y2="210.4" stroke-width="1.15"/>
<line x1="122.7" y1="200.8" x2="122.7" y2="210.4" stroke-width="1.03"/>
<line x1="124.5" y1="200.8" x2="124.5" y2="210.4" stroke-width="1.15"/>
<rect x="117.1" y="210.4" width="9.9" height="9.4" stroke-width="1.26"/>
<line x1="121.9" y1="211" x2="121.9" y2="214.6" stroke-width="1.03"/>
<line x1="123.4" y1="211" x2="123.4" y2="214.6" stroke-width="1.03"/>
<line x1="121.9" y1="216.5" x2="121.9" y2="219.8" stroke-width="1.03"/>
<line x1="123.4" y1="216.5" x2="123.4" y2="219.8" stroke-width="1.03"/>
<line x1="120.6" y1="219.8" x2="120.6" y2="263.4" stroke-width="1.15"/>
<line x1="124.4" y1="219.8" x2="124.4" y2="263.4" stroke-width="1.15"/>
<line x1="122.5" y1="220" x2="122.5" y2="263" stroke-width="0.69" stroke-dasharray="5 1.5"/>
<rect x="138.6" y="200.4" width="10.8" height="9.3" stroke-width="0.3" style="fill:#000"/>
<rect x="141.6" y="201.4" width="1.4" height="1.3" stroke-width="0.2" style="fill:#fff"/>
<rect x="144.6" y="201.4" width="1.6" height="1.6" stroke-width="0.2" style="fill:#fff"/>
<rect x="138.6" y="209.5" width="10.8" height="4.5" stroke-width="0.3" style="fill:#000"/>
<rect x="139.2" y="209.8" width="1.8" height="3.4" stroke-width="0.2" style="fill:#fff"/>
<rect x="145.2" y="209.6" width="3.2" height="4.2" stroke-width="0.2" style="fill:#fff"/>
<line x1="146.8" y1="209.6" x2="146.8" y2="213.8" stroke-width="0.92"/>
<rect x="137.2" y="213.4" width="13.6" height="8.2" stroke-width="0.3" style="fill:#000"/>
<rect x="138.6" y="221.6" width="5.2" height="12.7" stroke-width="0.3" style="fill:#000"/>
<line x1="145.2" y1="221.6" x2="145.2" y2="234.3" stroke-width="1.15"/>
<line x1="146.7" y1="221.6" x2="146.7" y2="234.3" stroke-width="1.03"/>
<line x1="149.2" y1="221.6" x2="149.2" y2="234.3" stroke-width="1.26"/>
<line x1="137.2" y1="234.3" x2="150" y2="234.3" stroke-width="1.15"/>
<line x1="135.4" y1="213.2" x2="135.4" y2="222.6" stroke-width="1.03"/>
<line x1="139.8" y1="234.3" x2="139.8" y2="252" stroke-width="2.07"/>
<line x1="143.3" y1="234.3" x2="143.3" y2="252" stroke-width="1.15"/>
<line x1="146.1" y1="234.3" x2="146.1" y2="244" stroke-width="1.03"/>
<path d="M138.2 250 L138.2 256 Q138.2 259.6 141.8 259.6 Q145.6 259.6 145.6 256 L145.6 251" stroke-width="1.15"/>
<path d="M140.4 250 L140.4 255.6 Q140.4 257.6 141.9 257.6 Q143.3 257.6 143.3 255.6 L143.3 250" stroke-width="1.03"/>
<line x1="139.6" y1="240" x2="139.6" y2="251" stroke-width="2.3"/>
<rect x="114.4" y="263.4" width="16.1" height="12.6" stroke-width="1.26"/>
<rect x="116.5" y="267.3" width="11.2" height="4.9" stroke-width="1.15"/>
<line x1="111" y1="270.4" x2="132.9" y2="270.4" stroke-width="1.03"/>
<line x1="120.5" y1="263.4" x2="120.5" y2="276.4" stroke-width="1.15"/>
<line x1="124.4" y1="263.4" x2="124.4" y2="276.4" stroke-width="1.15"/>
<rect x="119.3" y="272.2" width="5.6" height="7" stroke-width="0.3" style="fill:#000"/>
<rect x="113.2" y="278.8" width="11.7" height="5.1" stroke-width="0.3" style="fill:#000" rx="1.2"/>
<rect x="110.4" y="285.3" width="16.4" height="28.5" stroke-width="1.26"/>
<rect x="105.1" y="286.2" width="2.5" height="35.1" stroke-width="1.15"/>
<line x1="130.9" y1="286.2" x2="130.9" y2="321.3" stroke-width="2.18"/>
<line x1="101" y1="300.2" x2="133.8" y2="300.2" stroke-width="1.15"/>
<line x1="103.9" y1="305.4" x2="133.8" y2="305.4" stroke-width="1.15"/>
<line x1="122.4" y1="288" x2="122.4" y2="333" stroke-width="1.03" stroke-dasharray="7 1.5 1.5 1.5"/>
<rect x="107.6" y="300.8" width="2.8" height="5.6" stroke-width="0.92"/>
<rect x="126.8" y="300.8" width="3.4" height="5.6" stroke-width="0.92"/>
<!-- rail / hydraulic station -->
<path d="M214.4 273.6 L214.4 262 L222 262 L224 263.2 L236 263.2 L238 262.4 L246 262.4 L248 261.6 L250 262.6 L258 262.6 L260 263.2 L270 263.2 L272 262 L280.9 262 L280.9 273.6" stroke-width="1.26"/>
<line x1="214.4" y1="265.7" x2="280.9" y2="265.7" stroke-width="1.15"/>
<line x1="214.4" y1="267.6" x2="280.9" y2="267.6" stroke-width="1.15"/>
<line x1="214.4" y1="270.7" x2="280.9" y2="270.7" stroke-width="1.15"/>
<line x1="217.5" y1="270.7" x2="217.5" y2="273.6" stroke-width="1.15"/>
<line x1="214.4" y1="273.6" x2="217.5" y2="273.6" stroke-width="1.15"/>
<line x1="278" y1="270.7" x2="278" y2="273.6" stroke-width="1.15"/>
<line x1="278" y1="273.6" x2="280.9" y2="273.6" stroke-width="1.15"/>
<path d="M218.2 267.8 Q218.8 270.6 220.8 270.6 Q222.8 270.6 223.4 267.8" stroke-width="0.92"/>
<path d="M224.8 267.8 Q225.4 270.6 227.4 270.6 Q229.4 270.6 230 267.8" stroke-width="0.92"/>
<path d="M231.4 267.8 Q232 270.6 234 270.6 Q236 270.6 236.6 267.8" stroke-width="0.92"/>
<path d="M238 267.8 Q238.6 270.6 240.6 270.6 Q242.6 270.6 243.2 267.8" stroke-width="0.92"/>
<path d="M244.6 267.8 Q245.2 270.6 247.2 270.6 Q249.2 270.6 249.8 267.8" stroke-width="0.92"/>
<path d="M251.2 267.8 Q251.8 270.6 253.8 270.6 Q255.8 270.6 256.4 267.8" stroke-width="0.92"/>
<path d="M257.8 267.8 Q258.4 270.6 260.4 270.6 Q262.4 270.6 263 267.8" stroke-width="0.92"/>
<path d="M264.4 267.8 Q265 270.6 267 270.6 Q269 270.6 269.6 267.8" stroke-width="0.92"/>
<path d="M271 267.8 Q271.6 270.6 273.6 270.6 Q275.6 270.6 276.2 267.8" stroke-width="0.92"/>
<rect x="228.8" y="277" width="38.3" height="5.6" stroke-width="1.26" rx="2.6"/>
<rect x="237.9" y="276.4" width="19.2" height="5.6" stroke-width="0.3" style="fill:#000"/>
<line x1="243" y1="279.3" x2="252" y2="279.3" stroke-width="0.92"/>
<path d="M243 279.3 L252 279.3" stroke-width="0.8"/>
<line x1="243" y1="279.3" x2="252" y2="279.3" stroke="#fff" stroke-width="0.7"/>
<line x1="231" y1="279.8" x2="237" y2="279.8" stroke-width="0.8" stroke-dasharray="2.5 1"/>
<line x1="258" y1="279.8" x2="265" y2="279.8" stroke-width="0.8" stroke-dasharray="2.5 1"/>
<line x1="232.6" y1="277.2" x2="232.6" y2="282.4" stroke-width="0.8"/>
<line x1="263.3" y1="277.2" x2="263.3" y2="282.4" stroke-width="0.8"/>
<line x1="239.5" y1="282.6" x2="239.5" y2="290.2" stroke-width="1.26"/>
<line x1="256.2" y1="282.6" x2="256.2" y2="290.2" stroke-width="1.26"/>
<rect x="233.2" y="290.2" width="28.3" height="20.7" stroke-width="1.38" rx="3.6"/>
<line x1="229.1" y1="300.5" x2="264.6" y2="300.5" stroke-width="1.03" stroke-dasharray="14 1.5 2 1.5"/>
<rect x="243.2" y="318.6" width="3" height="2.6" stroke-width="0.3" style="fill:#000"/>
<!-- right brake cylinder -->
<rect x="340.2" y="209.1" width="10.6" height="7" stroke-width="0.3" style="fill:#000"/>
<rect x="340.6" y="210.2" width="1.6" height="5.2" stroke-width="0.2" style="fill:#fff"/>
<rect x="347.8" y="210" width="3" height="5.6" stroke-width="0.2" style="fill:#fff"/>
<line x1="349.3" y1="210" x2="349.3" y2="215.6" stroke-width="0.92"/>
<rect x="338.1" y="216.1" width="13.6" height="6.2" stroke-width="0.3" style="fill:#000"/>
<rect x="338.1" y="222.2" width="13.6" height="14" stroke-width="0.3" style="fill:#000"/>
<rect x="339.3" y="223.2" width="3.5" height="11.8" stroke-width="0.2" style="fill:#fff"/>
<rect x="345.2" y="223.2" width="2.8" height="11.8" stroke-width="0.2" style="fill:#fff"/>
<rect x="349.2" y="223.2" width="1.4" height="11.8" stroke-width="0.2" style="fill:#fff"/>
<line x1="345.4" y1="236.2" x2="345.4" y2="246" stroke-width="1.15"/>
<line x1="349.2" y1="236.2" x2="349.2" y2="243" stroke-width="1.03"/>
<!-- gearbox -->
<path d="M371.6 246.3 L371.6 175.2 Q371.6 170.9 376 170.9 L412 170.9 Q416.5 170.9 416.5 175.2 L416.5 246.3 Q416.5 249.3 413.5 249.3 L374.6 249.3 Q371.6 249.3 371.6 246.3 Z" stroke-width="1.84"/>
<path d="M375.9 243.6 L375.9 178.6 Q375.9 174.5 380 174.5 L408 174.5 Q412 174.5 412 178.6 L412 243.6 Q412 246.1 409.5 246.1 L378.4 246.1 Q375.9 246.1 375.9 243.6 Z" stroke-width="1.38"/>
<line x1="373.6" y1="176" x2="373.6" y2="246" stroke-width="1.03"/>
<line x1="414.4" y1="176" x2="414.4" y2="246" stroke-width="1.03"/>
<rect x="396" y="160" width="2.6" height="10.8" stroke-width="0.3" style="fill:#000"/>
<rect x="393.6" y="169" width="7.4" height="2" stroke-width="0.3" style="fill:#000"/>
<rect x="395.2" y="171" width="4.4" height="3.6" stroke-width="0.9" style="fill:#fff"/>
<line x1="397.3" y1="174.5" x2="397.3" y2="194" stroke-width="0.8"/>
<rect x="384.2" y="177.6" width="19.3" height="13.4" stroke-width="0.6" style="fill:#000"/>
<rect x="385.3" y="180.7" width="2.6" height="3.1" stroke-width="0.1" style="fill:#fff"/>
<rect x="385.3" y="185" width="2.6" height="2.9" stroke-width="0.1" style="fill:#fff"/>
<rect x="389" y="180.7" width="2.7" height="3.1" stroke-width="0.1" style="fill:#fff"/>
<rect x="389" y="185" width="2.7" height="2.9" stroke-width="0.1" style="fill:#fff"/>
<rect x="392.8" y="180.7" width="2.6" height="3.1" stroke-width="0.1" style="fill:#fff"/>
<rect x="392.8" y="185" width="2.6" height="2.9" stroke-width="0.1" style="fill:#fff"/>
<rect x="396.5" y="180.7" width="2.7" height="3.1" stroke-width="0.1" style="fill:#fff"/>
<rect x="396.5" y="185" width="2.7" height="2.9" stroke-width="0.1" style="fill:#fff"/>
<rect x="400.3" y="180.7" width="2.3" height="3.1" stroke-width="0.1" style="fill:#fff"/>
<rect x="400.3" y="185" width="2.3" height="2.9" stroke-width="0.1" style="fill:#fff"/>
<line x1="385" y1="178.9" x2="403" y2="178.9" stroke="#fff" stroke-width="0.8" stroke-dasharray="0.9 1.1"/>
<path d="M385 190.2 L386.2 188.8 L387.4 190.2 L388.6 188.8 L389.8 190.2 L391 188.8 L392.2 190.2 L393.4 188.8 L394.6 190.2 L395.8 188.8 L397 190.2 L398.2 188.8 L399.4 190.2 L400.6 188.8 L401.8 190.2 L403 188.8" stroke="#fff" stroke-width="0.7"/>
<line x1="383.2" y1="184.5" x2="404.6" y2="184.5" stroke-width="1.03"/>
<line x1="371.6" y1="190.6" x2="384.2" y2="190.6" stroke-width="1.26"/>
<line x1="371.6" y1="197.9" x2="384.8" y2="197.9" stroke-width="1.26"/>
<line x1="366.9" y1="190.6" x2="371.6" y2="190.6" stroke-width="1.15"/>
<line x1="376" y1="192.6" x2="384" y2="192.6" stroke-width="0.92"/>
<line x1="376" y1="196" x2="384" y2="196" stroke-width="0.92"/>
<line x1="403.5" y1="191.6" x2="415.2" y2="191.6" stroke-width="1.15"/>
<line x1="403" y1="197.4" x2="415.2" y2="197.4" stroke-width="1.15"/>
<rect x="412" y="191" width="4.6" height="6.4" stroke-width="0.3" style="fill:#000" rx="1.5"/>
<line x1="416.5" y1="194.4" x2="438.7" y2="194.4" stroke-width="0.8" stroke-dasharray="7 2"/>
<pattern id="xh" width="1.8" height="1.8" patternUnits="userSpaceOnUse"><rect width="1.8" height="1.8" fill="#000" stroke="none"/><rect x="0.1" y="0.1" width="0.75" height="0.75" fill="#fff" stroke="none"/><rect x="1.0" y="1.0" width="0.75" height="0.75" fill="#fff" stroke="none"/></pattern>
<line x1="384.2" y1="194.3" x2="403.6" y2="194.3" stroke-width="2.3"/>
<rect x="384.8" y="195.4" width="7.4" height="32" fill="url(#xh)" stroke="#000" stroke-width="0.9"/>
<rect x="394.9" y="195.4" width="8.1" height="32" fill="url(#xh)" stroke="#000" stroke-width="0.9"/>
<line x1="386" y1="197" x2="391" y2="204" stroke="#fff" stroke-width="1.0"/>
<line x1="396" y1="204" x2="401" y2="197" stroke="#fff" stroke-width="1.0"/>
<line x1="386" y1="214" x2="391" y2="221" stroke="#fff" stroke-width="1.0"/>
<line x1="396" y1="221" x2="401" y2="214" stroke="#fff" stroke-width="1.0"/>
<line x1="386" y1="225" x2="391" y2="218" stroke="#fff" stroke-width="1.0"/>
<line x1="396" y1="218" x2="401" y2="225" stroke="#fff" stroke-width="1.0"/>
<line x1="386" y1="208" x2="391" y2="201" stroke="#fff" stroke-width="1.0"/>
<line x1="396" y1="201" x2="401" y2="208" stroke="#fff" stroke-width="1.0"/>
<line x1="384.2" y1="211.4" x2="403.6" y2="211.4" stroke-width="1.61"/>
<line x1="393.5" y1="196" x2="393.5" y2="226" stroke-width="1.03"/>
<rect x="376.7" y="204.9" width="6.9" height="39.6" stroke-width="0.3" style="fill:#000"/>
<line x1="377.9" y1="210.9" x2="382.4" y2="207.9" stroke="#fff" stroke-width="0.8"/>
<line x1="377.9" y1="215.3" x2="382.4" y2="212.3" stroke="#fff" stroke-width="0.8"/>
<line x1="377.9" y1="219.7" x2="382.4" y2="216.7" stroke="#fff" stroke-width="0.8"/>
<line x1="377.9" y1="224.1" x2="382.4" y2="221.1" stroke="#fff" stroke-width="0.8"/>
<line x1="377.9" y1="228.5" x2="382.4" y2="225.5" stroke="#fff" stroke-width="0.8"/>
<line x1="377.9" y1="232.9" x2="382.4" y2="229.9" stroke="#fff" stroke-width="0.8"/>
<line x1="377.9" y1="237.3" x2="382.4" y2="234.3" stroke="#fff" stroke-width="0.8"/>
<line x1="377.9" y1="241.7" x2="382.4" y2="238.7" stroke="#fff" stroke-width="0.8"/>
<rect x="404.2" y="204.9" width="7" height="39.6" stroke-width="0.3" style="fill:#000"/>
<line x1="405.4" y1="207.9" x2="410" y2="210.9" stroke="#fff" stroke-width="0.8"/>
<line x1="405.4" y1="212.3" x2="410" y2="215.3" stroke="#fff" stroke-width="0.8"/>
<line x1="405.4" y1="216.7" x2="410" y2="219.7" stroke="#fff" stroke-width="0.8"/>
<line x1="405.4" y1="221.1" x2="410" y2="224.1" stroke="#fff" stroke-width="0.8"/>
<line x1="405.4" y1="225.5" x2="410" y2="228.5" stroke="#fff" stroke-width="0.8"/>
<line x1="405.4" y1="229.9" x2="410" y2="232.9" stroke="#fff" stroke-width="0.8"/>
<line x1="405.4" y1="234.3" x2="410" y2="237.3" stroke="#fff" stroke-width="0.8"/>
<line x1="405.4" y1="238.7" x2="410" y2="241.7" stroke="#fff" stroke-width="0.8"/>
<rect x="373" y="216.7" width="5.4" height="5.9" stroke-width="1.3" style="fill:#fff"/>
<rect x="408.8" y="216.7" width="5.9" height="5.9" stroke-width="1.3" style="fill:#fff"/>
<line x1="373" y1="219.6" x2="378.4" y2="219.6" stroke-width="1.03"/>
<line x1="408.8" y1="219.6" x2="414.7" y2="219.6" stroke-width="1.03"/>
<line x1="383.6" y1="236" x2="404.2" y2="236" stroke-width="1.15"/>
<line x1="383.6" y1="240.2" x2="404.2" y2="240.2" stroke-width="1.15"/>
<line x1="383.6" y1="244" x2="404.2" y2="244" stroke-width="1.15"/>
<line x1="383.6" y1="227.4" x2="383.6" y2="246" stroke-width="1.15"/>
<line x1="404.2" y1="227.4" x2="404.2" y2="246" stroke-width="1.15"/>
<line x1="384.8" y1="231.4" x2="386.4" y2="231.4" stroke-width="1.15"/>
<line x1="401.6" y1="231.4" x2="403" y2="231.4" stroke-width="1.15"/>
<rect x="416.5" y="236.5" width="5.1" height="3.7" stroke-width="1.15"/>
<rect x="367" y="235.4" width="4.6" height="4.8" stroke-width="1.15"/>
<line x1="422.9" y1="199" x2="422.9" y2="231.7" stroke-width="1.61"/>
<line x1="419.5" y1="201.1" x2="430.7" y2="201.1" stroke-width="2.07"/>
<rect x="421.6" y="199" width="2.7" height="4" stroke-width="1.03"/>
<rect x="430.7" y="196.8" width="11.2" height="10.2" stroke-width="1.38"/>
<rect x="432.8" y="199.5" width="7" height="4.3" stroke-width="1.26"/>
<line x1="434" y1="201.6" x2="438.6" y2="201.6" stroke-width="1.38"/>
<line x1="441.9" y1="199.6" x2="444.4" y2="199.6" stroke-width="1.03"/>
<line x1="441.9" y1="203.4" x2="444.4" y2="203.4" stroke-width="1.03"/>
<line x1="444.4" y1="198.4" x2="444.4" y2="204.6" stroke-width="1.38"/>
<line x1="444.4" y1="201.6" x2="447.4" y2="201.6" stroke-width="0.92"/>
<line x1="422.9" y1="244.4" x2="422.9" y2="277" stroke-width="1.15"/>
<!-- coupling / motor -->
<rect x="421.4" y="231" width="4.6" height="13.4" stroke-width="1.26"/>
<rect x="426" y="229.7" width="20" height="16" stroke-width="1.26"/>
<path d="M428 229.7 L428 227.4 L429 226.4 L443.7 226.4 L444.7 227.4 L444.7 229.7" stroke-width="1.15"/>
<path d="M428 245.7 L428 248 L429 249 L443.7 249 L444.7 248 L444.7 245.7" stroke-width="1.15"/>
<line x1="429" y1="226.6" x2="431" y2="229.5" stroke-width="0.92"/>
<line x1="443.7" y1="226.6" x2="441.7" y2="229.5" stroke-width="0.92"/>
<line x1="429" y1="248.8" x2="431" y2="245.9" stroke-width="0.92"/>
<line x1="443.7" y1="248.8" x2="441.7" y2="245.9" stroke-width="0.92"/>
<rect x="430" y="231" width="12.7" height="13.4" stroke-width="1.15"/>
<line x1="430" y1="233.7" x2="442.7" y2="233.7" stroke-width="0.92" stroke-dasharray="3 1"/>
<line x1="430" y1="241.7" x2="442.7" y2="241.7" stroke-width="0.92" stroke-dasharray="3 1"/>
<line x1="428" y1="229.7" x2="428" y2="245.7" stroke-width="0.92"/>
<line x1="444.7" y1="229.7" x2="444.7" y2="245.7" stroke-width="0.92"/>
<rect x="446" y="231.7" width="5.4" height="12" stroke-width="1.15"/>
<rect x="451.4" y="233.7" width="4.6" height="7.3" stroke-width="1.15"/>
<path d="M462.7 221.7 Q456 223.5 456 230 L456 247 Q456 253.5 462.7 255 " stroke-width="1.26"/>
<path d="M462.7 218.4 L516 218.4 Q520 218.4 520 222.4 L520 253 Q520 257.1 516 257.1 L462.7 257.1 Z" stroke-width="1.38"/>
<line x1="464.6" y1="216" x2="464.6" y2="259.6" stroke-width="2.07"/>
<line x1="466.4" y1="218.4" x2="466.4" y2="257.1" stroke-width="0.92"/>
<line x1="495.4" y1="216" x2="495.4" y2="259.6" stroke-width="1.03"/>
<line x1="497.4" y1="216" x2="497.4" y2="259.6" stroke-width="1.72"/>
<path d="M462.7 218.4 L462.7 215.4 L470.5 215.4 L470.5 218.4" stroke-width="1.15"/>
<path d="M492 218.4 L492 215.4 L499.8 215.4 L499.8 218.4" stroke-width="1.15"/>
<path d="M462.7 257.1 L462.7 260.4 L468 260.4 L468 257.1" stroke-width="1.15"/>
<path d="M492 257.1 L492 260.4 L499.8 260.4 L499.8 257.1" stroke-width="1.15"/>
<rect x="468.7" y="257.1" width="8.7" height="5" stroke-width="1.15"/>
<rect x="520" y="230.4" width="2.7" height="14.6" stroke-width="1.03"/>
<rect x="522.7" y="233" width="2" height="9.4" stroke-width="1.03"/>
<rect x="524.7" y="235" width="2.7" height="5.4" stroke-width="1.03"/>
<rect x="527.4" y="233.7" width="2.4" height="8.7" stroke-width="1.03"/>
<rect x="529.8" y="226.3" width="9.8" height="24.1" stroke-width="1.38"/>
<line x1="532" y1="226.3" x2="532" y2="250.4" stroke-width="1.03"/>
<line x1="535.9" y1="226.3" x2="535.9" y2="250.4" stroke-width="1.03"/>
<line x1="538.2" y1="226.3" x2="538.2" y2="250.4" stroke-width="1.03"/>
<rect x="539.6" y="233.7" width="2.4" height="8" stroke-width="1.03"/>
<rect x="542" y="235.4" width="2.4" height="4.6" stroke-width="1.03"/>
<rect x="544.4" y="223.3" width="8.3" height="46.7" stroke-width="1.26" rx="1.5"/>
<line x1="544.9" y1="224" x2="544.9" y2="269.4" stroke-width="1.84"/>
<line x1="546.4" y1="224" x2="546.4" y2="269.4" stroke-width="0.92"/>
<line x1="551.2" y1="224" x2="551.2" y2="269.4" stroke-width="0.92"/>
<line x1="548.7" y1="221" x2="548.7" y2="272" stroke-width="0.8" stroke-dasharray="9 1.5 2 1.5"/>
<line x1="546.6" y1="238.4" x2="550.8" y2="238.4" stroke-width="1.15"/>
<rect x="547.4" y="251.7" width="2.6" height="4" stroke-width="1.03"/>
<rect x="554" y="258.4" width="12.7" height="8" stroke-width="1.38"/>
<line x1="554" y1="262.1" x2="566.7" y2="262.1" stroke-width="1.84"/>
<line x1="558.4" y1="258.4" x2="558.4" y2="266.4" stroke-width="1.61"/>
<line x1="562.4" y1="258.4" x2="562.4" y2="266.4" stroke-width="1.61"/>
<line x1="560.4" y1="258.4" x2="560.4" y2="266.4" stroke-width="0.92"/>
<rect x="567.4" y="253.5" width="30.7" height="18.2" stroke-width="1.38" rx="2.2"/>
<line x1="582.8" y1="253.5" x2="582.8" y2="271.7" stroke-width="1.15"/>
<line x1="595.2" y1="253.5" x2="595.2" y2="271.7" stroke-width="1.03"/>
<line x1="569.6" y1="253.8" x2="569.6" y2="271.5" stroke-width="0.92"/>
<line x1="541.4" y1="262.1" x2="553" y2="262.1" stroke-width="1.03"/>
<line x1="572" y1="262.1" x2="600.8" y2="262.1" stroke-width="1.03" stroke-dasharray="12 2"/>
<!-- tank above gearbox -->
<rect x="387.5" y="116.2" width="32.4" height="39.3" stroke-width="1.26"/>
<line x1="403.4" y1="110.3" x2="403.4" y2="160.5" stroke-width="0.92" stroke-dasharray="12 1.5 2 1.5"/>
<line x1="388.4" y1="119.5" x2="392" y2="119.5" stroke-width="1.15"/>
<line x1="390.2" y1="117.7" x2="390.2" y2="121.3" stroke-width="1.15"/>
<line x1="415.7" y1="119.5" x2="419.3" y2="119.5" stroke-width="1.15"/>
<line x1="417.5" y1="117.7" x2="417.5" y2="121.3" stroke-width="1.15"/>
<line x1="388.4" y1="130.1" x2="392" y2="130.1" stroke-width="1.15"/>
<line x1="390.2" y1="128.3" x2="390.2" y2="131.9" stroke-width="1.15"/>
<line x1="415.7" y1="130.1" x2="419.3" y2="130.1" stroke-width="1.15"/>
<line x1="417.5" y1="128.3" x2="417.5" y2="131.9" stroke-width="1.15"/>
<line x1="388.4" y1="140.7" x2="392" y2="140.7" stroke-width="1.15"/>
<line x1="390.2" y1="138.9" x2="390.2" y2="142.5" stroke-width="1.15"/>
<line x1="415.7" y1="140.7" x2="419.3" y2="140.7" stroke-width="1.15"/>
<line x1="417.5" y1="138.9" x2="417.5" y2="142.5" stroke-width="1.15"/>
<line x1="388.4" y1="151.9" x2="392" y2="151.9" stroke-width="1.15"/>
<line x1="390.2" y1="150.1" x2="390.2" y2="153.7" stroke-width="1.15"/>
<line x1="415.7" y1="151.9" x2="419.3" y2="151.9" stroke-width="1.15"/>
<line x1="417.5" y1="150.1" x2="417.5" y2="153.7" stroke-width="1.15"/>
<line x1="397.7" y1="149.2" x2="397.7" y2="158" stroke-width="0.92"/>
<circle cx="397.7" cy="155.2" r="1.9" stroke-width="0.9"/>
<circle cx="397.7" cy="158.6" r="1.3" stroke-width="0.8"/>
<line x1="397.7" y1="159.6" x2="397.7" y2="169.5" stroke-width="2.53"/>
<!-- valve / pump -->
<path d="M355.3 227 L357 223.9 L363 223.9 L364.7 227 L363 230.3 L357 230.3 Z" stroke-width="1.84"/>
<line x1="356" y1="227" x2="364" y2="227" stroke-width="0.92"/>
<path d="M364.7 226.3 L367.4 226.3 L367.4 240.4" stroke-width="1.72"/>
<line x1="367.4" y1="236.4" x2="374" y2="236.4" stroke-width="1.15"/>
<line x1="367.4" y1="240.4" x2="374" y2="240.4" stroke-width="1.15"/>
<path d="M428.1 267.1 L438.6 267.1 Q442.1 267.1 442.1 270.6 L442.1 278.3 Q442.1 281.8 438.6 281.8 L428.1 281.8 Z" stroke-width="1.38"/>
<line x1="431.4" y1="267.1" x2="431.4" y2="281.8" stroke-width="1.38"/>
<line x1="433.4" y1="267.1" x2="433.4" y2="281.8" stroke-width="1.38"/>
<line x1="435.4" y1="267.1" x2="435.4" y2="281.8" stroke-width="1.38"/>
<line x1="437.4" y1="267.1" x2="437.4" y2="281.8" stroke-width="1.38"/>
<line x1="428.1" y1="270" x2="438" y2="270" stroke-width="0.92"/>
<line x1="428.1" y1="279" x2="438" y2="279" stroke-width="0.92"/>
<rect x="422.8" y="272.4" width="5.3" height="4.7" stroke-width="1.15"/>
<line x1="420" y1="273.7" x2="445.5" y2="273.7" stroke-width="0.92"/>
<!-- detail view -->
<rect x="227.2" y="388.3" width="39.8" height="13.2" stroke-width="1.26"/>
<line x1="227.2" y1="394.4" x2="267" y2="394.4" stroke-width="1.15"/>
<rect x="244.9" y="394.4" width="4.7" height="7.1" stroke-width="0.3" style="fill:#000"/>
<path d="M233.6 396.4 L238.6 396.4 L236.1 398.2 Z" stroke-width="0.5" style="fill:#000"/>
<line x1="232" y1="396.4" x2="240.2" y2="396.4" stroke-width="0.92"/>
<path d="M255.1 396.4 L260.1 396.4 L257.6 398.2 Z" stroke-width="0.5" style="fill:#000"/>
<line x1="253.5" y1="396.4" x2="261.7" y2="396.4" stroke-width="0.92"/>
<rect x="223.1" y="413.3" width="14.7" height="26.5" stroke-width="1.15"/>
<rect x="256.1" y="413.3" width="14.7" height="26.5" stroke-width="1.15"/>
<rect x="233.3" y="419.2" width="3.4" height="14.7" stroke-width="1.72"/>
<rect x="257" y="419.2" width="3.4" height="14.7" stroke-width="1.72"/>
<line x1="217.8" y1="426" x2="276.1" y2="426" stroke-width="1.15" stroke-dasharray="14 1.5 2 1.5"/>
<!-- leaders -->
<line x1="124.1" y1="60.4" x2="129.1" y2="60.4" stroke-width="0.92"/>
<line x1="129.1" y1="60.4" x2="164.7" y2="110" stroke-width="0.92"/>
<text x="126.6" y="59.7" font-size="3.6" text-anchor="middle" font-weight="bold">1</text>
<path d="M164.7 110 L163.52 107.15 L162.38 107.97 Z" stroke-width="0.3" style="fill:#000"/>
<line x1="148.8" y1="60.4" x2="153.8" y2="60.4" stroke-width="0.92"/>
<line x1="153.8" y1="60.4" x2="219.6" y2="191.5" stroke-width="0.92"/>
<text x="151.3" y="59.7" font-size="3.6" text-anchor="middle" font-weight="bold">2</text>
<path d="M219.6 191.5 L218.88 188.5 L217.63 189.13 Z" stroke-width="0.3" style="fill:#000"/>
<line x1="178.1" y1="60.4" x2="183.1" y2="60.4" stroke-width="0.92"/>
<line x1="183.1" y1="60.4" x2="208.4" y2="137.4" stroke-width="0.92"/>
<text x="180.6" y="59.7" font-size="3.6" text-anchor="middle" font-weight="bold">3</text>
<path d="M208.4 137.4 L208.13 134.33 L206.8 134.77 Z" stroke-width="0.3" style="fill:#000"/>
<line x1="201.1" y1="60.4" x2="206.1" y2="60.4" stroke-width="0.92"/>
<line x1="206.1" y1="60.4" x2="217" y2="136.6" stroke-width="0.92"/>
<text x="203.6" y="59.7" font-size="3.6" text-anchor="middle" font-weight="bold">4</text>
<path d="M217 136.6 L217.27 133.53 L215.88 133.73 Z" stroke-width="0.3" style="fill:#000"/>
<line x1="222.9" y1="60.4" x2="227.9" y2="60.4" stroke-width="0.92"/>
<line x1="227.9" y1="60.4" x2="222.6" y2="137" stroke-width="0.92"/>
<text x="225.4" y="59.7" font-size="3.6" text-anchor="middle" font-weight="bold">5</text>
<path d="M222.6 137 L223.51 134.06 L222.11 133.96 Z" stroke-width="0.3" style="fill:#000"/>
<line x1="232.5" y1="60.4" x2="237.5" y2="60.4" stroke-width="0.92"/>
<line x1="237.5" y1="60.4" x2="237.6" y2="157" stroke-width="0.92"/>
<text x="235" y="59.7" font-size="3.6" text-anchor="middle" font-weight="bold">6</text>
<path d="M237.6 157 L238.3 154 L236.9 154 Z" stroke-width="0.3" style="fill:#000"/>
<line x1="248.1" y1="60.4" x2="253.1" y2="60.4" stroke-width="0.92"/>
<line x1="253.1" y1="60.4" x2="266.9" y2="158" stroke-width="0.92"/>
<text x="250.6" y="59.7" font-size="3.6" text-anchor="middle" font-weight="bold">7</text>
<path d="M266.9 158 L267.17 154.93 L265.79 155.13 Z" stroke-width="0.3" style="fill:#000"/>
<line x1="365.1" y1="60.4" x2="370.1" y2="60.4" stroke-width="0.92"/>
<line x1="365.1" y1="60.4" x2="346.4" y2="179.3" stroke-width="0.92"/>
<text x="367.6" y="59.7" font-size="3.6" text-anchor="middle" font-weight="bold">8</text>
<path d="M346.4 179.3 L347.56 176.45 L346.17 176.23 Z" stroke-width="0.3" style="fill:#000"/>
<line x1="392.5" y1="60.4" x2="397.5" y2="60.4" stroke-width="0.92"/>
<line x1="392.5" y1="60.4" x2="364.3" y2="179.3" stroke-width="0.92"/>
<text x="395" y="59.7" font-size="3.6" text-anchor="middle" font-weight="bold">9</text>
<path d="M364.3 179.3 L365.67 176.54 L364.31 176.22 Z" stroke-width="0.3" style="fill:#000"/>
<line x1="428.5" y1="60.4" x2="433.5" y2="60.4" stroke-width="0.92"/>
<line x1="428.5" y1="60.4" x2="405.4" y2="133.4" stroke-width="0.92"/>
<text x="431" y="59.7" font-size="3.6" text-anchor="middle" font-weight="bold">10</text>
<path d="M405.4 133.4 L406.97 130.75 L405.64 130.33 Z" stroke-width="0.3" style="fill:#000"/>
<line x1="463.7" y1="60.4" x2="468.7" y2="60.4" stroke-width="0.92"/>
<line x1="463.7" y1="60.4" x2="417.2" y2="175.4" stroke-width="0.92"/>
<text x="466.2" y="59.7" font-size="3.6" text-anchor="middle" font-weight="bold">11</text>
<path d="M417.2 175.4 L418.97 172.88 L417.68 172.36 Z" stroke-width="0.3" style="fill:#000"/>
<line x1="493.9" y1="60.4" x2="498.9" y2="60.4" stroke-width="0.92"/>
<line x1="493.9" y1="60.4" x2="442.2" y2="197.5" stroke-width="0.92"/>
<text x="496.4" y="59.7" font-size="3.6" text-anchor="middle" font-weight="bold">12</text>
<path d="M442.2 197.5 L443.91 194.94 L442.6 194.45 Z" stroke-width="0.3" style="fill:#000"/>
<line x1="541.1" y1="333.3" x2="546.1" y2="333.3" stroke-width="0.92"/>
<line x1="546.1" y1="333.3" x2="557.4" y2="340" stroke-width="0.92"/>
<text x="543.6" y="332.6" font-size="3.6" text-anchor="middle" font-weight="bold">13</text>
<line x1="517.3" y1="333.3" x2="522.3" y2="333.3" stroke-width="0.92"/>
<line x1="522.3" y1="333.3" x2="548.6" y2="270.7" stroke-width="0.92"/>
<text x="519.8" y="332.6" font-size="3.6" text-anchor="middle" font-weight="bold">14</text>
<path d="M548.6 270.7 L546.79 273.19 L548.08 273.74 Z" stroke-width="0.3" style="fill:#000"/>
<line x1="494.1" y1="333.3" x2="499.1" y2="333.3" stroke-width="0.92"/>
<line x1="499.1" y1="333.3" x2="535" y2="251.5" stroke-width="0.92"/>
<text x="496.6" y="332.6" font-size="3.6" text-anchor="middle" font-weight="bold">15</text>
<path d="M535 251.5 L533.15 253.97 L534.44 254.53 Z" stroke-width="0.3" style="fill:#000"/>
<line x1="459.7" y1="333.3" x2="464.7" y2="333.3" stroke-width="0.92"/>
<line x1="464.7" y1="333.3" x2="491.7" y2="245.7" stroke-width="0.92"/>
<text x="462.2" y="332.6" font-size="3.6" text-anchor="middle" font-weight="bold">16</text>
<path d="M491.7 245.7 L490.15 248.36 L491.49 248.77 Z" stroke-width="0.3" style="fill:#000"/>
<line x1="387.7" y1="333.3" x2="392.7" y2="333.3" stroke-width="0.92"/>
<line x1="392.7" y1="333.3" x2="436.3" y2="244.2" stroke-width="0.92"/>
<text x="390.2" y="332.6" font-size="3.6" text-anchor="middle" font-weight="bold">17</text>
<path d="M436.3 244.2 L434.35 246.59 L435.61 247.2 Z" stroke-width="0.3" style="fill:#000"/>
<line x1="366.1" y1="333.3" x2="371.1" y2="333.3" stroke-width="0.92"/>
<line x1="371.1" y1="333.3" x2="401" y2="232.4" stroke-width="0.92"/>
<text x="368.6" y="332.6" font-size="3.6" text-anchor="middle" font-weight="bold">18</text>
<path d="M401 232.4 L399.48 235.08 L400.82 235.48 Z" stroke-width="0.3" style="fill:#000"/>
<line x1="344.5" y1="333.3" x2="349.5" y2="333.3" stroke-width="0.92"/>
<line x1="349.5" y1="333.3" x2="359" y2="230.4" stroke-width="0.92"/>
<text x="347" y="332.6" font-size="3.6" text-anchor="middle" font-weight="bold">19</text>
<path d="M359 230.4 L358.03 233.32 L359.42 233.45 Z" stroke-width="0.3" style="fill:#000"/>
<line x1="327.7" y1="333.3" x2="332.7" y2="333.3" stroke-width="0.92"/>
<line x1="332.7" y1="333.3" x2="359.8" y2="208.6" stroke-width="0.92"/>
<text x="330.2" y="332.6" font-size="3.6" text-anchor="middle" font-weight="bold">20</text>
<path d="M359.8 208.6 L358.48 211.38 L359.85 211.68 Z" stroke-width="0.3" style="fill:#000"/>
<line x1="190.7" y1="333.3" x2="195.7" y2="333.3" stroke-width="0.92"/>
<line x1="195.7" y1="333.3" x2="228.4" y2="266.8" stroke-width="0.92"/>
<text x="193.2" y="332.6" font-size="3.6" text-anchor="middle" font-weight="bold">21</text>
<path d="M228.4 266.8 L226.45 269.18 L227.7 269.8 Z" stroke-width="0.3" style="fill:#000"/>
<line x1="157.3" y1="471" x2="162.3" y2="471" stroke-width="0.92"/>
<line x1="162.3" y1="471" x2="247.3" y2="399.5" stroke-width="0.92"/>
<text x="159.8" y="470.3" font-size="3.6" text-anchor="middle" font-weight="bold">22</text>
<path d="M247.3 399.5 L244.55 400.9 L245.45 401.97 Z" stroke-width="0.3" style="fill:#000"/>
<line x1="141.7" y1="471" x2="146.7" y2="471" stroke-width="0.92"/>
<line x1="146.7" y1="471" x2="239.9" y2="399.5" stroke-width="0.92"/>
<text x="144.2" y="470.3" font-size="3.6" text-anchor="middle" font-weight="bold">23</text>
<path d="M239.9 399.5 L237.09 400.77 L237.95 401.88 Z" stroke-width="0.3" style="fill:#000"/>
<line x1="125.5" y1="471" x2="130.5" y2="471" stroke-width="0.92"/>
<line x1="130.5" y1="471" x2="232.5" y2="390.6" stroke-width="0.92"/>
<text x="128" y="470.3" font-size="3.6" text-anchor="middle" font-weight="bold">24</text>
<path d="M232.5 390.6 L229.71 391.91 L230.58 393.01 Z" stroke-width="0.3" style="fill:#000"/>
<line x1="110.9" y1="471" x2="115.9" y2="471" stroke-width="0.92"/>
<line x1="115.9" y1="471" x2="257.8" y2="306.5" stroke-width="0.92"/>
<text x="113.4" y="470.3" font-size="3.6" text-anchor="middle" font-weight="bold">25</text>
<path d="M257.8 306.5 L255.31 308.31 L256.37 309.23 Z" stroke-width="0.3" style="fill:#000"/>
<line x1="81.5" y1="233.4" x2="86.5" y2="233.4" stroke-width="0.92"/>
<line x1="86.5" y1="233.4" x2="117.4" y2="295.1" stroke-width="0.92"/>
<text x="84" y="232.7" font-size="3.6" text-anchor="middle" font-weight="bold">26</text>
<path d="M117.4 295.1 L116.68 292.1 L115.43 292.73 Z" stroke-width="0.3" style="fill:#000"/>
<line x1="81.5" y1="201" x2="86.5" y2="201" stroke-width="0.92"/>
<line x1="86.5" y1="201" x2="122.6" y2="240" stroke-width="0.92"/>
<text x="84" y="200.3" font-size="3.6" text-anchor="middle" font-weight="bold">27</text>
<path d="M122.6 240 L121.08 237.32 L120.05 238.27 Z" stroke-width="0.3" style="fill:#000"/>
<line x1="81.5" y1="174.4" x2="86.5" y2="174.4" stroke-width="0.92"/>
<line x1="86.5" y1="174.4" x2="114.2" y2="204.6" stroke-width="0.92"/>
<text x="84" y="173.7" font-size="3.6" text-anchor="middle" font-weight="bold">28</text>
<path d="M114.2 204.6 L112.69 201.92 L111.66 202.86 Z" stroke-width="0.3" style="fill:#000"/>
<line x1="81.5" y1="157.4" x2="86.5" y2="157.4" stroke-width="0.92"/>
<line x1="86.5" y1="157.4" x2="113.3" y2="189.8" stroke-width="0.92"/>
<text x="84" y="156.7" font-size="3.6" text-anchor="middle" font-weight="bold">29</text>
<path d="M113.3 189.8 L111.93 187.04 L110.85 187.93 Z" stroke-width="0.3" style="fill:#000"/>
<line x1="81.5" y1="148" x2="86.5" y2="148" stroke-width="0.92"/>
<line x1="86.5" y1="148" x2="173.2" y2="193.3" stroke-width="0.92"/>
<text x="84" y="147.3" font-size="3.6" text-anchor="middle" font-weight="bold">30</text>
<path d="M173.2 193.3 L170.87 191.29 L170.22 192.53 Z" stroke-width="0.3" style="fill:#000"/>
<line x1="81.5" y1="135.8" x2="86.5" y2="135.8" stroke-width="0.92"/>
<line x1="86.5" y1="135.8" x2="179.5" y2="177.6" stroke-width="0.92"/>
<text x="84" y="135.1" font-size="3.6" text-anchor="middle" font-weight="bold">31</text>
<path d="M179.5 177.6 L177.05 175.73 L176.48 177.01 Z" stroke-width="0.3" style="fill:#000"/>
<line x1="81.5" y1="125.6" x2="86.5" y2="125.6" stroke-width="0.92"/>
<line x1="86.5" y1="125.6" x2="180" y2="172" stroke-width="0.92"/>
<text x="84" y="124.9" font-size="3.6" text-anchor="middle" font-weight="bold">32</text>
<path d="M180 172 L177.62 170.04 L177 171.29 Z" stroke-width="0.3" style="fill:#000"/>
<line x1="81.5" y1="115.6" x2="86.5" y2="115.6" stroke-width="0.92"/>
<line x1="86.5" y1="115.6" x2="181" y2="167" stroke-width="0.92"/>
<text x="84" y="114.9" font-size="3.6" text-anchor="middle" font-weight="bold">33</text>
<path d="M181 167 L178.7 164.95 L178.03 166.18 Z" stroke-width="0.3" style="fill:#000"/>
<line x1="81.5" y1="95.8" x2="86.5" y2="95.8" stroke-width="0.92"/>
<line x1="86.5" y1="95.8" x2="194.6" y2="166.3" stroke-width="0.92"/>
<text x="84" y="95.1" font-size="3.6" text-anchor="middle" font-weight="bold">34</text>
<path d="M194.6 166.3 L192.47 164.07 L191.7 165.25 Z" stroke-width="0.3" style="fill:#000"/>
<!-- BOM tables -->
<line x1="515.1" y1="426.2" x2="629.4" y2="426.2" stroke-width="1.15"/>
<line x1="515.1" y1="430.25" x2="629.4" y2="430.25" stroke-width="1.15"/>
<line x1="515.1" y1="434.31" x2="629.4" y2="434.31" stroke-width="1.15"/>
<line x1="515.1" y1="438.37" x2="629.4" y2="438.37" stroke-width="1.15"/>
<line x1="515.1" y1="442.42" x2="629.4" y2="442.42" stroke-width="1.15"/>
<line x1="515.1" y1="446.47" x2="629.4" y2="446.47" stroke-width="1.15"/>
<line x1="515.1" y1="450.53" x2="629.4" y2="450.53" stroke-width="1.15"/>
<line x1="515.1" y1="454.58" x2="629.4" y2="454.58" stroke-width="1.15"/>
<line x1="515.1" y1="458.64" x2="629.4" y2="458.64" stroke-width="1.15"/>
<line x1="515.1" y1="462.69" x2="629.4" y2="462.69" stroke-width="1.15"/>
<line x1="515.1" y1="466.75" x2="629.4" y2="466.75" stroke-width="1.15"/>
<line x1="515.1" y1="470.81" x2="629.4" y2="470.81" stroke-width="1.15"/>
<line x1="515.1" y1="474.86" x2="629.4" y2="474.86" stroke-width="1.15"/>
<line x1="515.1" y1="478.91" x2="629.4" y2="478.91" stroke-width="1.15"/>
<line x1="515.1" y1="482.97" x2="629.4" y2="482.97" stroke-width="1.15"/>
<line x1="515.1" y1="487.02" x2="629.4" y2="487.02" stroke-width="1.15"/>
<line x1="515.1" y1="491.08" x2="629.4" y2="491.08" stroke-width="1.15"/>
<line x1="515.1" y1="495.13" x2="629.4" y2="495.13" stroke-width="1.15"/>
<line x1="515.1" y1="499.19" x2="629.4" y2="499.19" stroke-width="1.15"/>
<line x1="515.1" y1="503.25" x2="629.4" y2="503.25" stroke-width="1.15"/>
<line x1="515.1" y1="507.3" x2="629.4" y2="507.3" stroke-width="1.15"/>
<line x1="515.1" y1="511.36" x2="629.4" y2="511.36" stroke-width="1.15"/>
<line x1="515.1" y1="515.41" x2="629.4" y2="515.41" stroke-width="1.15"/>
<line x1="515.1" y1="519.46" x2="629.4" y2="519.46" stroke-width="1.15"/>
<line x1="515.1" y1="523.52" x2="629.4" y2="523.52" stroke-width="1.15"/>
<line x1="515.1" y1="426.2" x2="515.1" y2="523.52" stroke-width="1.49"/>
<line x1="546.3" y1="426.2" x2="546.3" y2="523.52" stroke-width="1.15"/>
<line x1="573.3" y1="426.2" x2="573.3" y2="523.52" stroke-width="1.15"/>
<line x1="578.9" y1="426.2" x2="578.9" y2="523.52" stroke-width="1.15"/>
<line x1="594.7" y1="426.2" x2="594.7" y2="523.52" stroke-width="1.15"/>
<line x1="602.4" y1="426.2" x2="602.4" y2="523.52" stroke-width="1.15"/>
<line x1="609.2" y1="426.2" x2="609.2" y2="523.52" stroke-width="1.15"/>
<line x1="616.9" y1="426.2" x2="616.9" y2="523.52" stroke-width="1.15"/>
<line x1="629.4" y1="426.2" x2="629.4" y2="523.52" stroke-width="1.15"/>
<text x="516" y="429.65" font-size="4.1" font-weight="bold" textLength="29.4" lengthAdjust="spacingAndGlyphs">2JK3-11.5-24</text>
<text x="559.8" y="429.65" font-size="3.9" text-anchor="middle" font-weight="bold" textLength="14" lengthAdjust="spacingAndGlyphs">地脚螺栓</text>
<text x="576.1" y="429.65" font-size="3.8" text-anchor="middle" font-weight="bold">1</text>
<text x="590.6" y="429.65" font-size="3.8" text-anchor="middle" font-weight="bold">4</text>
<text x="516" y="433.7" font-size="4.1" font-weight="bold" textLength="29.4" lengthAdjust="spacingAndGlyphs">GB5782-86</text>
<text x="559.8" y="433.7" font-size="3.9" text-anchor="middle" font-weight="bold" textLength="24.5" lengthAdjust="spacingAndGlyphs">盘形制动器装置</text>
<text x="576.1" y="433.7" font-size="3.8" text-anchor="middle" font-weight="bold">1</text>
<text x="590.6" y="433.7" font-size="3.8" text-anchor="middle" font-weight="bold">1</text>
<text x="516" y="437.76" font-size="4.1" font-weight="bold" textLength="29.4" lengthAdjust="spacingAndGlyphs">2JK3-11.5-22</text>
<text x="559.8" y="437.76" font-size="3.9" text-anchor="middle" font-weight="bold" textLength="7" lengthAdjust="spacingAndGlyphs">垫板</text>
<text x="576.1" y="437.76" font-size="3.8" text-anchor="middle" font-weight="bold">1</text>
<text x="590.6" y="437.76" font-size="3.8" text-anchor="middle" font-weight="bold">1</text>
<text x="516" y="441.81" font-size="4.1" font-weight="bold" textLength="29.4" lengthAdjust="spacingAndGlyphs">GB6170-86</text>
<text x="559.8" y="441.81" font-size="3.9" text-anchor="middle" font-weight="bold" textLength="7" lengthAdjust="spacingAndGlyphs">螺母</text>
<text x="576.1" y="441.81" font-size="3.8" text-anchor="middle" font-weight="bold">1</text>
<text x="590.6" y="441.81" font-size="3.8" text-anchor="middle" font-weight="bold">4</text>
<text x="516" y="445.87" font-size="4.1" font-weight="bold" textLength="29.4" lengthAdjust="spacingAndGlyphs">2JK3-11.5-20</text>
<text x="559.8" y="445.87" font-size="3.9" text-anchor="middle" font-weight="bold" textLength="17.5" lengthAdjust="spacingAndGlyphs">深度指示器</text>
<text x="576.1" y="445.87" font-size="3.8" text-anchor="middle" font-weight="bold">1</text>
<text x="590.6" y="445.87" font-size="3.8" text-anchor="middle" font-weight="bold">1</text>
<text x="516" y="449.92" font-size="4.1" font-weight="bold" textLength="29.4" lengthAdjust="spacingAndGlyphs">2JK3-11.5-19</text>
<text x="559.8" y="449.92" font-size="3.9" text-anchor="middle" font-weight="bold" textLength="14" lengthAdjust="spacingAndGlyphs">传动装置</text>
<text x="576.1" y="449.92" font-size="3.8" text-anchor="middle" font-weight="bold">1</text>
<text x="590.6" y="449.92" font-size="3.8" text-anchor="middle" font-weight="bold">1</text>
<text x="516" y="453.98" font-size="4.1" font-weight="bold" textLength="29.4" lengthAdjust="spacingAndGlyphs">TE162-00</text>
<text x="559.8" y="453.98" font-size="3.9" text-anchor="middle" font-weight="bold" textLength="10.5" lengthAdjust="spacingAndGlyphs">液压站</text>
<text x="576.1" y="453.98" font-size="3.8" text-anchor="middle" font-weight="bold">1</text>
<text x="590.6" y="453.98" font-size="3.8" text-anchor="middle" font-weight="bold">4</text>
<text x="516" y="458.03" font-size="4.1" font-weight="bold" textLength="29.4" lengthAdjust="spacingAndGlyphs">2JK3-11.5-17</text>
<text x="559.8" y="458.03" font-size="3.9" text-anchor="middle" font-weight="bold" textLength="10.5" lengthAdjust="spacingAndGlyphs">轴承梁</text>
<text x="576.1" y="458.03" font-size="3.8" text-anchor="middle" font-weight="bold">1</text>
<text x="590.6" y="458.03" font-size="3.8" text-anchor="middle" font-weight="bold">1</text>
<text x="516" y="462.09" font-size="4.1" font-weight="bold" textLength="29.4" lengthAdjust="spacingAndGlyphs">GB5783-86</text>
<text x="559.8" y="462.09" font-size="3.9" text-anchor="middle" font-weight="bold" textLength="7" lengthAdjust="spacingAndGlyphs">螺栓</text>
<text x="576.1" y="462.09" font-size="3.8" text-anchor="middle" font-weight="bold">1</text>
<text x="590.6" y="462.09" font-size="3.8" text-anchor="middle" font-weight="bold">1</text>
<text x="516" y="466.14" font-size="4.1" font-weight="bold" textLength="29.4" lengthAdjust="spacingAndGlyphs">2JK3-11.5-15</text>
<text x="559.8" y="466.14" font-size="3.9" text-anchor="middle" font-weight="bold" textLength="14" lengthAdjust="spacingAndGlyphs">主轴装置</text>
<text x="576.1" y="466.14" font-size="3.8" text-anchor="middle" font-weight="bold">1</text>
<text x="590.6" y="466.14" font-size="3.8" text-anchor="middle" font-weight="bold">4</text>
<text x="516" y="470.2" font-size="4.1" font-weight="bold" textLength="29.4" lengthAdjust="spacingAndGlyphs">2JK3-11.5-14</text>
<text x="559.8" y="470.2" font-size="3.9" text-anchor="middle" font-weight="bold" textLength="14" lengthAdjust="spacingAndGlyphs">润滑油站</text>
<text x="576.1" y="470.2" font-size="3.8" text-anchor="middle" font-weight="bold">1</text>
<text x="590.6" y="470.2" font-size="3.8" text-anchor="middle" font-weight="bold">1</text>
<text x="516" y="474.25" font-size="4.1" font-weight="bold" textLength="29.4" lengthAdjust="spacingAndGlyphs">B157-00</text>
<text x="559.8" y="474.25" font-size="3.9" text-anchor="middle" font-weight="bold" textLength="10.5" lengthAdjust="spacingAndGlyphs">减速器</text>
<text x="576.1" y="474.25" font-size="3.8" text-anchor="middle" font-weight="bold">1</text>
<text x="590.6" y="474.25" font-size="3.8" text-anchor="middle" font-weight="bold">1</text>
<text x="516" y="478.31" font-size="4.1" font-weight="bold" textLength="29.4" lengthAdjust="spacingAndGlyphs">2JK3-11.5-12</text>
<text x="559.8" y="478.31" font-size="3.9" text-anchor="middle" font-weight="bold" textLength="10.5" lengthAdjust="spacingAndGlyphs">联轴器</text>
<text x="576.1" y="478.31" font-size="3.8" text-anchor="middle" font-weight="bold">1</text>
<text x="590.6" y="478.31" font-size="3.8" text-anchor="middle" font-weight="bold">4</text>
<text x="516" y="482.36" font-size="4.1" font-weight="bold" textLength="29.4" lengthAdjust="spacingAndGlyphs">2JK3-11.5-11</text>
<text x="559.8" y="482.36" font-size="3.9" text-anchor="middle" font-weight="bold" textLength="10.5" lengthAdjust="spacingAndGlyphs">电动机</text>
<text x="576.1" y="482.36" font-size="3.8" text-anchor="middle" font-weight="bold">1</text>
<text x="590.6" y="482.36" font-size="3.8" text-anchor="middle" font-weight="bold">1</text>
<text x="516" y="486.42" font-size="4.1" font-weight="bold" textLength="29.4" lengthAdjust="spacingAndGlyphs">GB93-87</text>
<text x="559.8" y="486.42" font-size="3.9" text-anchor="middle" font-weight="bold" textLength="7" lengthAdjust="spacingAndGlyphs">垫圈</text>
<text x="576.1" y="486.42" font-size="3.8" text-anchor="middle" font-weight="bold">1</text>
<text x="590.6" y="486.42" font-size="3.8" text-anchor="middle" font-weight="bold">1</text>
<text x="516" y="490.47" font-size="4.1" font-weight="bold" textLength="29.4" lengthAdjust="spacingAndGlyphs">2JK3-11.5-09</text>
<text x="559.8" y="490.47" font-size="3.9" text-anchor="middle" font-weight="bold" textLength="24.5" lengthAdjust="spacingAndGlyphs">测速发电机装置</text>
<text x="576.1" y="490.47" font-size="3.8" text-anchor="middle" font-weight="bold">1</text>
<text x="590.6" y="490.47" font-size="3.8" text-anchor="middle" font-weight="bold">4</text>
<text x="516" y="494.53" font-size="4.1" font-weight="bold" textLength="29.4" lengthAdjust="spacingAndGlyphs">TS219-00</text>
<text x="559.8" y="494.53" font-size="3.9" text-anchor="middle" font-weight="bold" textLength="24.5" lengthAdjust="spacingAndGlyphs">弹性棒销联轴器</text>
<text x="576.1" y="494.53" font-size="3.8" text-anchor="middle" font-weight="bold">1</text>
<text x="590.6" y="494.53" font-size="3.8" text-anchor="middle" font-weight="bold">1</text>
<text x="516" y="498.58" font-size="4.1" font-weight="bold" textLength="29.4" lengthAdjust="spacingAndGlyphs">2JK3-11.5-07</text>
<text x="559.8" y="498.58" font-size="3.9" text-anchor="middle" font-weight="bold" textLength="17.5" lengthAdjust="spacingAndGlyphs">齿轮联轴器</text>
<text x="576.1" y="498.58" font-size="3.8" text-anchor="middle" font-weight="bold">1</text>
<text x="590.6" y="498.58" font-size="3.8" text-anchor="middle" font-weight="bold">1</text>
<text x="516" y="502.64" font-size="4.1" font-weight="bold" textLength="29.4" lengthAdjust="spacingAndGlyphs">2JK3-11.5-06</text>
<text x="559.8" y="502.64" font-size="3.9" text-anchor="middle" font-weight="bold" textLength="17.5" lengthAdjust="spacingAndGlyphs">司机操纵台</text>
<text x="576.1" y="502.64" font-size="3.8" text-anchor="middle" font-weight="bold">1</text>
<text x="590.6" y="502.64" font-size="3.8" text-anchor="middle" font-weight="bold">4</text>
<text x="516" y="506.69" font-size="4.1" font-weight="bold" textLength="29.4" lengthAdjust="spacingAndGlyphs">2JK3-11.5-05</text>
<text x="559.8" y="506.69" font-size="3.9" text-anchor="middle" font-weight="bold" textLength="10.5" lengthAdjust="spacingAndGlyphs">锁紧器</text>
<text x="576.1" y="506.69" font-size="3.8" text-anchor="middle" font-weight="bold">1</text>
<text x="590.6" y="506.69" font-size="3.8" text-anchor="middle" font-weight="bold">1</text>
<text x="516" y="510.75" font-size="4.1" font-weight="bold" textLength="29.4" lengthAdjust="spacingAndGlyphs">ZL28-00</text>
<text x="559.8" y="510.75" font-size="3.9" text-anchor="middle" font-weight="bold" textLength="17.5" lengthAdjust="spacingAndGlyphs">微拖动装置</text>
<text x="576.1" y="510.75" font-size="3.8" text-anchor="middle" font-weight="bold">1</text>
<text x="590.6" y="510.75" font-size="3.8" text-anchor="middle" font-weight="bold">1</text>
<text x="516" y="514.81" font-size="4.1" font-weight="bold" textLength="29.4" lengthAdjust="spacingAndGlyphs">2JK3-11.5-03</text>
<text x="559.8" y="514.81" font-size="3.9" text-anchor="middle" font-weight="bold" textLength="7" lengthAdjust="spacingAndGlyphs">护罩</text>
<text x="576.1" y="514.81" font-size="3.8" text-anchor="middle" font-weight="bold">1</text>
<text x="590.6" y="514.81" font-size="3.8" text-anchor="middle" font-weight="bold">4</text>
<text x="516" y="518.86" font-size="4.1" font-weight="bold" textLength="29.4" lengthAdjust="spacingAndGlyphs">2JK3-11.5-02</text>
<text x="559.8" y="518.86" font-size="3.9" text-anchor="middle" font-weight="bold" textLength="7" lengthAdjust="spacingAndGlyphs">管路</text>
<text x="576.1" y="518.86" font-size="3.8" text-anchor="middle" font-weight="bold">1</text>
<text x="590.6" y="518.86" font-size="3.8" text-anchor="middle" font-weight="bold">1</text>
<text x="516" y="522.91" font-size="4.1" font-weight="bold" textLength="29.4" lengthAdjust="spacingAndGlyphs">2JK3-11.5-01</text>
<text x="559.8" y="522.91" font-size="3.9" text-anchor="middle" font-weight="bold" textLength="10.5" lengthAdjust="spacingAndGlyphs">基础图</text>
<text x="576.1" y="522.91" font-size="3.8" text-anchor="middle" font-weight="bold">1</text>
<text x="590.6" y="522.91" font-size="3.8" text-anchor="middle" font-weight="bold">1</text>
<line x1="629.4" y1="426.2" x2="742.2" y2="426.2" stroke-width="1.15"/>
<line x1="629.4" y1="430.25" x2="742.2" y2="430.25" stroke-width="1.15"/>
<line x1="629.4" y1="434.31" x2="742.2" y2="434.31" stroke-width="1.15"/>
<line x1="629.4" y1="438.37" x2="742.2" y2="438.37" stroke-width="1.15"/>
<line x1="629.4" y1="442.42" x2="742.2" y2="442.42" stroke-width="1.15"/>
<line x1="629.4" y1="446.47" x2="742.2" y2="446.47" stroke-width="1.15"/>
<line x1="629.4" y1="450.53" x2="742.2" y2="450.53" stroke-width="1.15"/>
<line x1="629.4" y1="454.58" x2="742.2" y2="454.58" stroke-width="1.15"/>
<line x1="629.4" y1="458.64" x2="742.2" y2="458.64" stroke-width="1.15"/>
<line x1="629.4" y1="462.69" x2="742.2" y2="462.69" stroke-width="1.15"/>
<line x1="629.4" y1="466.75" x2="742.2" y2="466.75" stroke-width="1.15"/>
<line x1="629.4" y1="470.81" x2="742.2" y2="470.81" stroke-width="1.15"/>
<line x1="629.4" y1="474.86" x2="742.2" y2="474.86" stroke-width="1.15"/>
<line x1="629.4" y1="478.91" x2="742.2" y2="478.91" stroke-width="1.15"/>
<line x1="629.4" y1="482.97" x2="742.2" y2="482.97" stroke-width="1.15"/>
<line x1="629.4" y1="487.02" x2="742.2" y2="487.02" stroke-width="1.15"/>
<line x1="629.4" y1="426.2" x2="629.4" y2="487.02" stroke-width="1.15"/>
<line x1="659.2" y1="426.2" x2="659.2" y2="487.02" stroke-width="1.15"/>
<line x1="686.6" y1="426.2" x2="686.6" y2="487.02" stroke-width="1.15"/>
<line x1="689.3" y1="426.2" x2="689.3" y2="487.02" stroke-width="1.15"/>
<line x1="692.3" y1="426.2" x2="692.3" y2="487.02" stroke-width="1.15"/>
<line x1="715.5" y1="426.2" x2="715.5" y2="487.02" stroke-width="1.15"/>
<line x1="722.4" y1="426.2" x2="722.4" y2="487.02" stroke-width="1.15"/>
<line x1="729.3" y1="426.2" x2="729.3" y2="487.02" stroke-width="1.15"/>
<text x="631.2" y="429.65" font-size="4.1" font-weight="bold" textLength="26" lengthAdjust="spacingAndGlyphs">2JK3-38</text>
<text x="672.6" y="429.65" font-size="3.9" text-anchor="middle" font-weight="bold">支架</text>
<text x="704.2" y="429.65" font-size="3.4" text-anchor="middle" font-weight="bold" textLength="4.6" lengthAdjust="spacingAndGlyphs">Q235</text>
<text x="688" y="429.65" font-size="3.6" text-anchor="middle" font-weight="bold">1</text>
<text x="631.2" y="433.7" font-size="4.1" font-weight="bold" textLength="26" lengthAdjust="spacingAndGlyphs">2JK3-37</text>
<text x="672.6" y="433.7" font-size="3.9" text-anchor="middle" font-weight="bold">导向轮</text>
<text x="704.2" y="433.7" font-size="3.4" text-anchor="middle" font-weight="bold" textLength="4.6" lengthAdjust="spacingAndGlyphs">Q235</text>
<text x="688" y="433.7" font-size="3.6" text-anchor="middle" font-weight="bold">1</text>
<text x="631.2" y="437.76" font-size="4.1" font-weight="bold" textLength="26" lengthAdjust="spacingAndGlyphs">2JK3-36</text>
<text x="672.6" y="437.76" font-size="3.9" text-anchor="middle" font-weight="bold">油管</text>
<text x="704.2" y="437.76" font-size="3.4" text-anchor="middle" font-weight="bold" textLength="4.6" lengthAdjust="spacingAndGlyphs">Q235</text>
<text x="688" y="437.76" font-size="3.6" text-anchor="middle" font-weight="bold">1</text>
<text x="631.2" y="441.81" font-size="4.1" font-weight="bold" textLength="26" lengthAdjust="spacingAndGlyphs">2JK3-35</text>
<text x="672.6" y="441.81" font-size="3.9" text-anchor="middle" font-weight="bold">压板</text>
<text x="704.2" y="441.81" font-size="3.4" text-anchor="middle" font-weight="bold" textLength="4.6" lengthAdjust="spacingAndGlyphs">Q235</text>
<text x="631.2" y="445.87" font-size="4.1" font-weight="bold" textLength="26" lengthAdjust="spacingAndGlyphs">GB97-85</text>
<text x="672.6" y="445.87" font-size="3.9" text-anchor="middle" font-weight="bold">垫圈</text>
<text x="704.2" y="445.87" font-size="3.4" text-anchor="middle" font-weight="bold" textLength="4.6" lengthAdjust="spacingAndGlyphs">Q235</text>
<text x="688" y="445.87" font-size="3.6" text-anchor="middle" font-weight="bold">1</text>
<text x="631.2" y="449.92" font-size="4.1" font-weight="bold" textLength="26" lengthAdjust="spacingAndGlyphs">2JK3-33</text>
<text x="672.6" y="449.92" font-size="3.9" text-anchor="middle" font-weight="bold">斜铁</text>
<text x="704.2" y="449.92" font-size="3.4" text-anchor="middle" font-weight="bold" textLength="4.6" lengthAdjust="spacingAndGlyphs">Q235</text>
<text x="688" y="449.92" font-size="3.6" text-anchor="middle" font-weight="bold">1</text>
<text x="631.2" y="453.98" font-size="4.1" font-weight="bold" textLength="26" lengthAdjust="spacingAndGlyphs">GB41-86</text>
<text x="672.6" y="453.98" font-size="3.9" text-anchor="middle" font-weight="bold">螺母</text>
<text x="704.2" y="453.98" font-size="3.4" text-anchor="middle" font-weight="bold" textLength="4.6" lengthAdjust="spacingAndGlyphs">Q235</text>
<text x="631.2" y="458.03" font-size="4.1" font-weight="bold" textLength="26" lengthAdjust="spacingAndGlyphs">2JK3-31</text>
<text x="672.6" y="458.03" font-size="3.9" text-anchor="middle" font-weight="bold">盖板</text>
<text x="704.2" y="458.03" font-size="3.4" text-anchor="middle" font-weight="bold" textLength="4.6" lengthAdjust="spacingAndGlyphs">Q235</text>
<text x="688" y="458.03" font-size="3.6" text-anchor="middle" font-weight="bold">1</text>
<text x="631.2" y="462.09" font-size="4.1" font-weight="bold" textLength="26" lengthAdjust="spacingAndGlyphs">2JK3-30</text>
<text x="672.6" y="462.09" font-size="3.9" text-anchor="middle" font-weight="bold">挡绳板</text>
<text x="704.2" y="462.09" font-size="3.4" text-anchor="middle" font-weight="bold" textLength="4.6" lengthAdjust="spacingAndGlyphs">Q235</text>
<text x="688" y="462.09" font-size="3.6" text-anchor="middle" font-weight="bold">1</text>
<text x="631.2" y="466.14" font-size="4.1" font-weight="bold" textLength="26" lengthAdjust="spacingAndGlyphs">GB95-85</text>
<text x="672.6" y="466.14" font-size="3.9" text-anchor="middle" font-weight="bold">垫圈</text>
<text x="631.2" y="470.2" font-size="4.1" font-weight="bold" textLength="26" lengthAdjust="spacingAndGlyphs">2JK3-28</text>
<text x="672.6" y="470.2" font-size="3.9" text-anchor="middle" font-weight="bold">木衬</text>
<text x="704.2" y="470.2" font-size="3.4" text-anchor="middle" font-weight="bold" textLength="4.6" lengthAdjust="spacingAndGlyphs">Q235</text>
<text x="631.2" y="474.25" font-size="4.1" font-weight="bold" textLength="26" lengthAdjust="spacingAndGlyphs">2JK3-27</text>
<text x="672.6" y="474.25" font-size="3.9" text-anchor="middle" font-weight="bold">闸瓦</text>
<text x="704.2" y="474.25" font-size="3.4" text-anchor="middle" font-weight="bold" textLength="4.6" lengthAdjust="spacingAndGlyphs">Q235</text>
<text x="631.2" y="478.31" font-size="4.1" font-weight="bold" textLength="26" lengthAdjust="spacingAndGlyphs">GB848</text>
<text x="672.6" y="478.31" font-size="3.9" text-anchor="middle" font-weight="bold">螺钉</text>
<text x="704.2" y="478.31" font-size="3.4" text-anchor="middle" font-weight="bold" textLength="4.6" lengthAdjust="spacingAndGlyphs">Q235</text>
<text x="688" y="478.31" font-size="3.6" text-anchor="middle" font-weight="bold">1</text>
<text x="631.2" y="482.36" font-size="4.1" font-weight="bold" textLength="26" lengthAdjust="spacingAndGlyphs">2JK3-25</text>
<text x="672.6" y="482.36" font-size="3.9" text-anchor="middle" font-weight="bold">滚筒</text>
<text x="632" y="486.37" font-size="3.6" text-anchor="middle" font-weight="bold">序</text>
<text x="645" y="486.37" font-size="3.4" text-anchor="middle" font-weight="bold">代 号</text>
<text x="672.6" y="486.37" font-size="3.4" text-anchor="middle" font-weight="bold">名称</text>
<text x="688" y="486.37" font-size="3.2" text-anchor="middle" font-weight="bold">数</text>
<text x="704" y="486.37" font-size="3.4" text-anchor="middle" font-weight="bold">材料</text>
<text x="719" y="486.37" font-size="3.2" text-anchor="middle" font-weight="bold" textLength="6" lengthAdjust="spacingAndGlyphs">单重</text>
<text x="726" y="486.37" font-size="3.2" text-anchor="middle" font-weight="bold" textLength="6" lengthAdjust="spacingAndGlyphs">总重</text>
<text x="736" y="486.37" font-size="3.4" text-anchor="middle" font-weight="bold">备注</text>
<!-- title block -->
<line x1="629.4" y1="487.02" x2="679.5" y2="487.02" stroke-width="1.03"/>
<line x1="629.4" y1="491.58" x2="679.5" y2="491.58" stroke-width="1.03"/>
<line x1="629.4" y1="496.14" x2="679.5" y2="496.14" stroke-width="1.03"/>
<line x1="629.4" y1="500.7" x2="679.5" y2="500.7" stroke-width="1.03"/>
<line x1="629.4" y1="505.26" x2="679.5" y2="505.26" stroke-width="1.03"/>
<line x1="629.4" y1="509.82" x2="679.5" y2="509.82" stroke-width="1.03"/>
<line x1="629.4" y1="514.38" x2="679.5" y2="514.38" stroke-width="1.03"/>
<line x1="629.4" y1="518.94" x2="679.5" y2="518.94" stroke-width="1.03"/>
<line x1="629.4" y1="523.5" x2="679.5" y2="523.5" stroke-width="1.03"/>
<line x1="629.4" y1="487.02" x2="629.4" y2="523.5" stroke-width="1.15"/>
<line x1="635.4" y1="487.02" x2="635.4" y2="523.5" stroke-width="1.15"/>
<line x1="641.8" y1="487.02" x2="641.8" y2="523.5" stroke-width="1.15"/>
<line x1="652.2" y1="487.02" x2="652.2" y2="523.5" stroke-width="1.15"/>
<line x1="661.8" y1="487.02" x2="661.8" y2="523.5" stroke-width="1.15"/>
<line x1="669.9" y1="487.02" x2="669.9" y2="523.5" stroke-width="1.15"/>
<line x1="679.5" y1="487.02" x2="679.5" y2="523.5" stroke-width="1.15"/>
<line x1="679.5" y1="487.02" x2="679.5" y2="523.5" stroke-width="1.26"/>
<line x1="709.9" y1="487.02" x2="709.9" y2="523.5" stroke-width="1.38"/>
<line x1="679.5" y1="505.2" x2="709.9" y2="505.2" stroke-width="1.15"/>
<line x1="679.5" y1="511.2" x2="709.9" y2="511.2" stroke-width="1.15"/>
<line x1="679.5" y1="517.3" x2="709.9" y2="517.3" stroke-width="1.15"/>
<line x1="694.9" y1="505.2" x2="694.9" y2="511.2" stroke-width="1.15"/>
<line x1="703.6" y1="505.2" x2="703.6" y2="511.2" stroke-width="1.15"/>
<line x1="683.3" y1="511.2" x2="683.3" y2="517.3" stroke-width="1.03"/>
<line x1="687" y1="511.2" x2="687" y2="517.3" stroke-width="1.03"/>
<line x1="690.7" y1="511.2" x2="690.7" y2="517.3" stroke-width="1.03"/>
<line x1="694.9" y1="511.2" x2="694.9" y2="517.3" stroke-width="1.03"/>
<line x1="703.6" y1="511.2" x2="703.6" y2="517.3" stroke-width="1.03"/>
<line x1="709.9" y1="499" x2="742.2" y2="499" stroke-width="1.26"/>
<line x1="709.9" y1="511.7" x2="742.2" y2="511.7" stroke-width="1.26"/>
<text x="632.4" y="504.3" font-size="3.6" text-anchor="middle" font-weight="bold" textLength="5.4" lengthAdjust="spacingAndGlyphs">设计</text>
<text x="632.4" y="508.86" font-size="3.6" text-anchor="middle" font-weight="bold" textLength="5.4" lengthAdjust="spacingAndGlyphs">制图</text>
<text x="632.4" y="513.42" font-size="3.6" text-anchor="middle" font-weight="bold" textLength="5.4" lengthAdjust="spacingAndGlyphs">审核</text>
<text x="632.4" y="522.54" font-size="3.6" text-anchor="middle" font-weight="bold" textLength="5.4" lengthAdjust="spacingAndGlyphs">工艺</text>
<text x="647" y="504.4" font-size="4.2" text-anchor="middle" font-weight="bold" textLength="22" lengthAdjust="spacingAndGlyphs">矿井提升机</text>
<text x="647" y="508.96" font-size="4.2" text-anchor="middle" font-weight="bold" textLength="22" lengthAdjust="spacingAndGlyphs">矿井提升机</text>
<text x="647" y="513.52" font-size="4.2" text-anchor="middle" font-weight="bold" textLength="22" lengthAdjust="spacingAndGlyphs">矿井提升机</text>
<text x="657" y="522.54" font-size="3.6" text-anchor="middle" font-weight="bold" textLength="5.4" lengthAdjust="spacingAndGlyphs">批准</text>
<text x="687.5" y="510" font-size="3.6" text-anchor="middle" font-weight="bold" textLength="13" lengthAdjust="spacingAndGlyphs">图样标记</text>
<text x="699.2" y="510" font-size="3.4" text-anchor="middle" font-weight="bold" textLength="6.4" lengthAdjust="spacingAndGlyphs">重量</text>
<text x="706.8" y="510" font-size="3.2" text-anchor="middle" font-weight="bold" textLength="5.2" lengthAdjust="spacingAndGlyphs">比例</text>
<text x="682" y="522.4" font-size="3.4" font-weight="bold">共</text>
<text x="690" y="522.4" font-size="3.4" font-weight="bold">张</text>
<text x="697" y="522.4" font-size="3.4" font-weight="bold">第</text>
<text x="704.6" y="522.4" font-size="3.4" font-weight="bold">张</text>
<text x="726.4" y="492.4" font-size="4.2" text-anchor="middle" font-weight="bold">2JK-3型</text>
<text x="726.4" y="497.4" font-size="4" text-anchor="middle" font-weight="bold" textLength="17" lengthAdjust="spacingAndGlyphs">提升机安装图</text>
<text x="726.8" y="507.2" font-size="5.2" text-anchor="middle" font-weight="bold" textLength="25.4" lengthAdjust="spacingAndGlyphs">矿山机械制造厂</text>
<text x="726.4" y="520" font-size="5.6" text-anchor="middle" textLength="21.6" lengthAdjust="spacingAndGlyphs" style="stroke-width:0.12px">2JK-3/11.5</text>
<!-- notes -->
<text x="373.7" y="455" font-size="3.6" text-anchor="middle" font-weight="bold" textLength="8.4" lengthAdjust="spacingAndGlyphs">技术要求</text>
<text x="314.5" y="460.15" font-size="4.3" font-weight="bold" textLength="134" lengthAdjust="spacingAndGlyphs">1.提升机安装前，应按装箱单清点零部件，检查2JK-3/11.5型提升机各部件在运输中有无损坏、锈蚀。</text>
<text x="314.5" y="465.37" font-size="4.3" font-weight="bold" textLength="97.5" lengthAdjust="spacingAndGlyphs">2.主轴装置、减速器及电动机的安装应以提升中心线为基准进行找正。</text>
<text x="314.5" y="470.59" font-size="4.3" font-weight="bold" textLength="131.5" lengthAdjust="spacingAndGlyphs">3.主轴轴心线的水平度不大于0.1/1000，联轴器的同轴度、端面间隙应符合《机电设备安装规范》的规定。</text>
<text x="314.5" y="475.81" font-size="4.3" font-weight="bold" textLength="98.5" lengthAdjust="spacingAndGlyphs">4.盘形制动器闸瓦与制动盘的接触面积不小于60%，间隙为1mm。</text>
<text x="314.5" y="481.03" font-size="4.3" font-weight="bold" textLength="78.5" lengthAdjust="spacingAndGlyphs">5.各润滑部位应按规定加注润滑油、润滑脂。</text>
<text x="314.5" y="486.25" font-size="4.3" font-weight="bold" textLength="95.5" lengthAdjust="spacingAndGlyphs">6.液压站、管路安装后应进行耐压试验，不得有渗漏现象。</text>
<text x="314.5" y="491.47" font-size="4.3" font-weight="bold" textLength="95.5" lengthAdjust="spacingAndGlyphs">7.深度指示器传动装置应转动灵活，不得有卡阻现象。</text>
<text x="314.5" y="496.69" font-size="4.3" font-weight="bold" textLength="109.5" lengthAdjust="spacingAndGlyphs">8.地脚螺栓二次灌浆应在设备找正后进行，养护期不少于七天。</text>
<text x="314.5" y="501.91" font-size="4.3" font-weight="bold" textLength="122.5" lengthAdjust="spacingAndGlyphs">9.安装完毕后应进行空负荷试运转，正反向各运转四小时，轴承温升不超过规定值。</text>
<text x="314.5" y="507.13" font-size="4.3" font-weight="bold" textLength="47.5" lengthAdjust="spacingAndGlyphs">10.本图尺寸仅供安装参考。</text>
<!-- dims -->
<text x="278.4" y="117.6" font-size="3.2" text-anchor="middle" font-weight="bold">2000</text>
<text x="297.6" y="117.6" font-size="3.2" text-anchor="middle" font-weight="bold">70</text>
<text x="340.3" y="137.4" font-size="3.4" text-anchor="middle" font-weight="bold">48</text>
<text x="295.4" y="182.2" font-size="3" text-anchor="middle" font-weight="bold">1</text>
<line x1="196" y1="144.7" x2="196" y2="149.5" stroke-width="1.03"/>
<line x1="232" y1="144.7" x2="232" y2="150" stroke-width="1.03"/>
<line x1="261.5" y1="144.7" x2="261.5" y2="148.5" stroke-width="1.03"/>
<line x1="299" y1="144.7" x2="299" y2="148.5" stroke-width="1.03"/>
</g>
</svg>
</body></html>
